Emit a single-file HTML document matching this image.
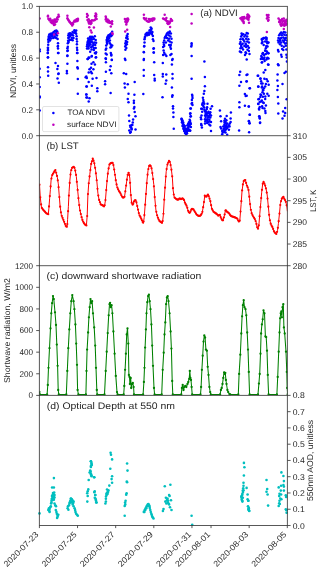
<!DOCTYPE html>
<html><head><meta charset="utf-8"><style>
html,body{margin:0;padding:0;background:#fff;width:320px;height:570px;overflow:hidden}
svg{display:block;will-change:transform}
text{font-family:"Liberation Sans", sans-serif;text-rendering:geometricPrecision}
</style></head><body>
<svg width="320" height="570" viewBox="0 0 320 570">
<defs><clipPath id="clipa"><rect x="39.4" y="6.4" width="248" height="129.3"/></clipPath><clipPath id="clipb"><rect x="39.4" y="135.7" width="248" height="130"/></clipPath><clipPath id="clipc"><rect x="39.4" y="265.7" width="248" height="129.7"/></clipPath></defs>
<rect width="320" height="570" fill="#fff"/>
<g clip-path="url(#clipa)">
<circle cx="192.1" cy="94.8" r="1.25" fill="#0000ff"/>
<circle cx="192.5" cy="98.0" r="1.25" fill="#0000ff"/>
<circle cx="192.1" cy="102.9" r="1.25" fill="#0000ff"/>
<circle cx="192.5" cy="104.9" r="1.25" fill="#0000ff"/>
<circle cx="190.5" cy="108.5" r="1.25" fill="#0000ff"/>
<circle cx="190.1" cy="113.8" r="1.25" fill="#0000ff"/>
<circle cx="190.5" cy="116.6" r="1.25" fill="#0000ff"/>
<circle cx="189.7" cy="119.8" r="1.25" fill="#0000ff"/>
<circle cx="190.5" cy="123.1" r="1.25" fill="#0000ff"/>
<circle cx="189.3" cy="124.7" r="1.25" fill="#0000ff"/>
<circle cx="190.9" cy="127.1" r="1.25" fill="#0000ff"/>
<circle cx="188.1" cy="127.9" r="1.25" fill="#0000ff"/>
<circle cx="190.1" cy="130.7" r="1.25" fill="#0000ff"/>
<circle cx="187.3" cy="130.3" r="1.25" fill="#0000ff"/>
<circle cx="186.5" cy="132.7" r="1.25" fill="#0000ff"/>
<circle cx="181.6" cy="119.0" r="1.25" fill="#0000ff"/>
<circle cx="182.5" cy="120.6" r="1.25" fill="#0000ff"/>
<circle cx="182.0" cy="122.3" r="1.25" fill="#0000ff"/>
<circle cx="182.9" cy="123.9" r="1.25" fill="#0000ff"/>
<circle cx="182.5" cy="125.9" r="1.25" fill="#0000ff"/>
<circle cx="183.7" cy="127.1" r="1.25" fill="#0000ff"/>
<circle cx="183.3" cy="128.7" r="1.25" fill="#0000ff"/>
<circle cx="184.5" cy="129.5" r="1.25" fill="#0000ff"/>
<circle cx="184.1" cy="131.1" r="1.25" fill="#0000ff"/>
<circle cx="185.3" cy="131.9" r="1.25" fill="#0000ff"/>
<circle cx="186.1" cy="134.0" r="1.25" fill="#0000ff"/>
<circle cx="184.9" cy="128.3" r="1.25" fill="#0000ff"/>
<circle cx="186.5" cy="128.7" r="1.25" fill="#0000ff"/>
<circle cx="187.3" cy="125.5" r="1.25" fill="#0000ff"/>
<circle cx="188.1" cy="123.9" r="1.25" fill="#0000ff"/>
<circle cx="188.9" cy="122.3" r="1.25" fill="#0000ff"/>
<circle cx="183.7" cy="124.7" r="1.25" fill="#0000ff"/>
<circle cx="185.7" cy="130.7" r="1.25" fill="#0000ff"/>
<circle cx="185.0" cy="133.0" r="1.25" fill="#0000ff"/>
<circle cx="187.0" cy="133.2" r="1.25" fill="#0000ff"/>
<circle cx="188.8" cy="129.5" r="1.25" fill="#0000ff"/>
<circle cx="189.5" cy="126.0" r="1.25" fill="#0000ff"/>
<circle cx="89.5" cy="40.5" r="1.25" fill="#0000ff"/>
<circle cx="90.5" cy="39.5" r="1.25" fill="#0000ff"/>
<circle cx="89.5" cy="43.5" r="1.25" fill="#0000ff"/>
<circle cx="90.5" cy="44.5" r="1.25" fill="#0000ff"/>
<circle cx="91.5" cy="41.5" r="1.25" fill="#0000ff"/>
<circle cx="92.5" cy="42.5" r="1.25" fill="#0000ff"/>
<circle cx="92.0" cy="39.5" r="1.25" fill="#0000ff"/>
<circle cx="90.5" cy="42.0" r="1.25" fill="#0000ff"/>
<circle cx="88.5" cy="48.5" r="1.25" fill="#0000ff"/>
<circle cx="92.2" cy="46.5" r="1.25" fill="#0000ff"/>
<circle cx="87.0" cy="48.5" r="1.25" fill="#0000ff"/>
<circle cx="88.0" cy="38.5" r="1.25" fill="#0000ff"/>
<circle cx="89.8" cy="37.5" r="1.25" fill="#0000ff"/>
<circle cx="93.5" cy="44.0" r="1.25" fill="#0000ff"/>
<circle cx="94.5" cy="42.5" r="1.25" fill="#0000ff"/>
<circle cx="48.8" cy="36.3" r="1.25" fill="#0000ff"/>
<circle cx="49.3" cy="34.6" r="1.25" fill="#0000ff"/>
<circle cx="50.6" cy="33.7" r="1.25" fill="#0000ff"/>
<circle cx="52.3" cy="33.2" r="1.25" fill="#0000ff"/>
<circle cx="53.6" cy="31.9" r="1.25" fill="#0000ff"/>
<circle cx="55.0" cy="31.1" r="1.25" fill="#0000ff"/>
<circle cx="56.3" cy="30.4" r="1.25" fill="#0000ff"/>
<circle cx="57.2" cy="31.5" r="1.25" fill="#0000ff"/>
<circle cx="50.1" cy="37.2" r="1.25" fill="#0000ff"/>
<circle cx="51.9" cy="36.3" r="1.25" fill="#0000ff"/>
<circle cx="53.2" cy="38.1" r="1.25" fill="#0000ff"/>
<circle cx="54.5" cy="36.3" r="1.25" fill="#0000ff"/>
<circle cx="55.8" cy="34.6" r="1.25" fill="#0000ff"/>
<circle cx="56.3" cy="38.1" r="1.25" fill="#0000ff"/>
<circle cx="57.6" cy="39.0" r="1.25" fill="#0000ff"/>
<circle cx="48.2" cy="39.8" r="1.25" fill="#0000ff"/>
<circle cx="48.4" cy="42.0" r="1.25" fill="#0000ff"/>
<circle cx="51.0" cy="35.0" r="1.25" fill="#0000ff"/>
<circle cx="52.8" cy="34.8" r="1.25" fill="#0000ff"/>
<circle cx="54.8" cy="33.5" r="1.25" fill="#0000ff"/>
<circle cx="56.5" cy="32.8" r="1.25" fill="#0000ff"/>
<circle cx="49.5" cy="38.8" r="1.25" fill="#0000ff"/>
<circle cx="51.2" cy="38.6" r="1.25" fill="#0000ff"/>
<circle cx="55.0" cy="37.5" r="1.25" fill="#0000ff"/>
<circle cx="57.0" cy="35.5" r="1.25" fill="#0000ff"/>
<circle cx="48.6" cy="38.0" r="1.25" fill="#0000ff"/>
<circle cx="50.0" cy="40.5" r="1.25" fill="#0000ff"/>
<circle cx="58.0" cy="43.3" r="1.25" fill="#0000ff"/>
<circle cx="58.0" cy="46.0" r="1.25" fill="#0000ff"/>
<circle cx="58.0" cy="48.6" r="1.25" fill="#0000ff"/>
<circle cx="58.5" cy="53.0" r="1.25" fill="#0000ff"/>
<circle cx="47.9" cy="47.7" r="1.25" fill="#0000ff"/>
<circle cx="47.9" cy="50.4" r="1.25" fill="#0000ff"/>
<circle cx="47.9" cy="53.0" r="1.25" fill="#0000ff"/>
<circle cx="47.9" cy="57.4" r="1.25" fill="#0000ff"/>
<circle cx="48.2" cy="44.8" r="1.25" fill="#0000ff"/>
<circle cx="74.4" cy="30.2" r="1.25" fill="#0000ff"/>
<circle cx="76.2" cy="30.6" r="1.25" fill="#0000ff"/>
<circle cx="68.7" cy="33.7" r="1.25" fill="#0000ff"/>
<circle cx="70.0" cy="33.2" r="1.25" fill="#0000ff"/>
<circle cx="71.3" cy="33.7" r="1.25" fill="#0000ff"/>
<circle cx="72.6" cy="31.9" r="1.25" fill="#0000ff"/>
<circle cx="68.3" cy="35.4" r="1.25" fill="#0000ff"/>
<circle cx="68.3" cy="38.1" r="1.25" fill="#0000ff"/>
<circle cx="68.1" cy="40.7" r="1.25" fill="#0000ff"/>
<circle cx="67.8" cy="43.3" r="1.25" fill="#0000ff"/>
<circle cx="70.0" cy="36.3" r="1.25" fill="#0000ff"/>
<circle cx="71.8" cy="38.1" r="1.25" fill="#0000ff"/>
<circle cx="72.6" cy="40.3" r="1.25" fill="#0000ff"/>
<circle cx="73.5" cy="38.1" r="1.25" fill="#0000ff"/>
<circle cx="73.1" cy="35.4" r="1.25" fill="#0000ff"/>
<circle cx="74.0" cy="32.8" r="1.25" fill="#0000ff"/>
<circle cx="76.2" cy="33.7" r="1.25" fill="#0000ff"/>
<circle cx="76.6" cy="36.3" r="1.25" fill="#0000ff"/>
<circle cx="76.6" cy="38.9" r="1.25" fill="#0000ff"/>
<circle cx="77.0" cy="41.6" r="1.25" fill="#0000ff"/>
<circle cx="76.9" cy="44.2" r="1.25" fill="#0000ff"/>
<circle cx="77.0" cy="47.7" r="1.25" fill="#0000ff"/>
<circle cx="77.5" cy="53.0" r="1.25" fill="#0000ff"/>
<circle cx="67.8" cy="46.8" r="1.25" fill="#0000ff"/>
<circle cx="67.8" cy="50.4" r="1.25" fill="#0000ff"/>
<circle cx="67.4" cy="55.6" r="1.25" fill="#0000ff"/>
<circle cx="75.2" cy="31.5" r="1.25" fill="#0000ff"/>
<circle cx="69.2" cy="34.5" r="1.25" fill="#0000ff"/>
<circle cx="69.0" cy="37.5" r="1.25" fill="#0000ff"/>
<circle cx="70.8" cy="35.0" r="1.25" fill="#0000ff"/>
<circle cx="72.0" cy="34.5" r="1.25" fill="#0000ff"/>
<circle cx="69.5" cy="40.0" r="1.25" fill="#0000ff"/>
<circle cx="71.0" cy="39.8" r="1.25" fill="#0000ff"/>
<circle cx="75.5" cy="32.8" r="1.25" fill="#0000ff"/>
<circle cx="68.6" cy="42.0" r="1.25" fill="#0000ff"/>
<circle cx="90.2" cy="36.7" r="1.25" fill="#0000ff"/>
<circle cx="92.0" cy="36.7" r="1.25" fill="#0000ff"/>
<circle cx="94.8" cy="36.3" r="1.25" fill="#0000ff"/>
<circle cx="91.1" cy="38.1" r="1.25" fill="#0000ff"/>
<circle cx="87.9" cy="41.3" r="1.25" fill="#0000ff"/>
<circle cx="88.8" cy="40.8" r="1.25" fill="#0000ff"/>
<circle cx="87.5" cy="42.7" r="1.25" fill="#0000ff"/>
<circle cx="88.4" cy="44.0" r="1.25" fill="#0000ff"/>
<circle cx="89.8" cy="42.2" r="1.25" fill="#0000ff"/>
<circle cx="95.7" cy="39.9" r="1.25" fill="#0000ff"/>
<circle cx="96.1" cy="42.7" r="1.25" fill="#0000ff"/>
<circle cx="93.9" cy="39.0" r="1.25" fill="#0000ff"/>
<circle cx="87.0" cy="46.3" r="1.25" fill="#0000ff"/>
<circle cx="89.3" cy="45.4" r="1.25" fill="#0000ff"/>
<circle cx="91.1" cy="47.2" r="1.25" fill="#0000ff"/>
<circle cx="93.0" cy="45.4" r="1.25" fill="#0000ff"/>
<circle cx="93.9" cy="48.1" r="1.25" fill="#0000ff"/>
<circle cx="95.7" cy="48.1" r="1.25" fill="#0000ff"/>
<circle cx="91.6" cy="49.5" r="1.25" fill="#0000ff"/>
<circle cx="93.9" cy="50.0" r="1.25" fill="#0000ff"/>
<circle cx="96.1" cy="52.3" r="1.25" fill="#0000ff"/>
<circle cx="95.7" cy="53.6" r="1.25" fill="#0000ff"/>
<circle cx="90.2" cy="51.8" r="1.25" fill="#0000ff"/>
<circle cx="96.1" cy="57.3" r="1.25" fill="#0000ff"/>
<circle cx="91.6" cy="56.4" r="1.25" fill="#0000ff"/>
<circle cx="89.3" cy="57.7" r="1.25" fill="#0000ff"/>
<circle cx="87.5" cy="59.1" r="1.25" fill="#0000ff"/>
<circle cx="88.2" cy="43.0" r="1.25" fill="#0000ff"/>
<circle cx="89.0" cy="39.3" r="1.25" fill="#0000ff"/>
<circle cx="87.3" cy="44.5" r="1.25" fill="#0000ff"/>
<circle cx="88.5" cy="46.8" r="1.25" fill="#0000ff"/>
<circle cx="93.0" cy="37.6" r="1.25" fill="#0000ff"/>
<circle cx="95.2" cy="45.0" r="1.25" fill="#0000ff"/>
<circle cx="112.2" cy="31.7" r="1.25" fill="#0000ff"/>
<circle cx="109.9" cy="34.4" r="1.25" fill="#0000ff"/>
<circle cx="108.5" cy="35.3" r="1.25" fill="#0000ff"/>
<circle cx="107.6" cy="36.7" r="1.25" fill="#0000ff"/>
<circle cx="107.1" cy="38.1" r="1.25" fill="#0000ff"/>
<circle cx="106.6" cy="40.0" r="1.25" fill="#0000ff"/>
<circle cx="108.0" cy="39.1" r="1.25" fill="#0000ff"/>
<circle cx="109.4" cy="38.1" r="1.25" fill="#0000ff"/>
<circle cx="110.8" cy="36.2" r="1.25" fill="#0000ff"/>
<circle cx="111.8" cy="35.3" r="1.25" fill="#0000ff"/>
<circle cx="109.9" cy="40.5" r="1.25" fill="#0000ff"/>
<circle cx="108.5" cy="41.4" r="1.25" fill="#0000ff"/>
<circle cx="107.1" cy="43.7" r="1.25" fill="#0000ff"/>
<circle cx="106.2" cy="45.6" r="1.25" fill="#0000ff"/>
<circle cx="106.2" cy="48.4" r="1.25" fill="#0000ff"/>
<circle cx="109.9" cy="43.3" r="1.25" fill="#0000ff"/>
<circle cx="110.8" cy="44.7" r="1.25" fill="#0000ff"/>
<circle cx="112.2" cy="45.6" r="1.25" fill="#0000ff"/>
<circle cx="110.4" cy="47.5" r="1.25" fill="#0000ff"/>
<circle cx="111.3" cy="47.0" r="1.25" fill="#0000ff"/>
<circle cx="105.7" cy="49.8" r="1.25" fill="#0000ff"/>
<circle cx="105.7" cy="53.6" r="1.25" fill="#0000ff"/>
<circle cx="110.8" cy="53.1" r="1.25" fill="#0000ff"/>
<circle cx="111.3" cy="55.5" r="1.25" fill="#0000ff"/>
<circle cx="105.7" cy="58.3" r="1.25" fill="#0000ff"/>
<circle cx="111.8" cy="59.7" r="1.25" fill="#0000ff"/>
<circle cx="108.8" cy="37.0" r="1.25" fill="#0000ff"/>
<circle cx="107.5" cy="41.0" r="1.25" fill="#0000ff"/>
<circle cx="106.8" cy="42.0" r="1.25" fill="#0000ff"/>
<circle cx="111.0" cy="33.5" r="1.25" fill="#0000ff"/>
<circle cx="109.0" cy="36.0" r="1.25" fill="#0000ff"/>
<circle cx="127.7" cy="33.9" r="1.25" fill="#0000ff"/>
<circle cx="126.8" cy="35.8" r="1.25" fill="#0000ff"/>
<circle cx="126.3" cy="38.1" r="1.25" fill="#0000ff"/>
<circle cx="127.7" cy="39.1" r="1.25" fill="#0000ff"/>
<circle cx="125.8" cy="40.9" r="1.25" fill="#0000ff"/>
<circle cx="127.2" cy="41.9" r="1.25" fill="#0000ff"/>
<circle cx="125.4" cy="43.3" r="1.25" fill="#0000ff"/>
<circle cx="126.8" cy="44.2" r="1.25" fill="#0000ff"/>
<circle cx="125.8" cy="45.1" r="1.25" fill="#0000ff"/>
<circle cx="126.3" cy="48.0" r="1.25" fill="#0000ff"/>
<circle cx="125.4" cy="49.8" r="1.25" fill="#0000ff"/>
<circle cx="124.9" cy="58.7" r="1.25" fill="#0000ff"/>
<circle cx="126.8" cy="37.2" r="1.25" fill="#0000ff"/>
<circle cx="126.2" cy="42.5" r="1.25" fill="#0000ff"/>
<circle cx="125.2" cy="46.5" r="1.25" fill="#0000ff"/>
<circle cx="127.3" cy="36.5" r="1.25" fill="#0000ff"/>
<circle cx="150.7" cy="27.4" r="1.25" fill="#0000ff"/>
<circle cx="151.2" cy="29.7" r="1.25" fill="#0000ff"/>
<circle cx="149.6" cy="30.2" r="1.25" fill="#0000ff"/>
<circle cx="152.4" cy="31.9" r="1.25" fill="#0000ff"/>
<circle cx="148.4" cy="32.5" r="1.25" fill="#0000ff"/>
<circle cx="146.7" cy="33.1" r="1.25" fill="#0000ff"/>
<circle cx="145.6" cy="34.2" r="1.25" fill="#0000ff"/>
<circle cx="150.1" cy="33.1" r="1.25" fill="#0000ff"/>
<circle cx="147.3" cy="35.3" r="1.25" fill="#0000ff"/>
<circle cx="149.0" cy="34.7" r="1.25" fill="#0000ff"/>
<circle cx="145.1" cy="36.4" r="1.25" fill="#0000ff"/>
<circle cx="144.5" cy="39.2" r="1.25" fill="#0000ff"/>
<circle cx="144.5" cy="42.6" r="1.25" fill="#0000ff"/>
<circle cx="152.9" cy="35.9" r="1.25" fill="#0000ff"/>
<circle cx="152.9" cy="39.2" r="1.25" fill="#0000ff"/>
<circle cx="153.5" cy="40.9" r="1.25" fill="#0000ff"/>
<circle cx="151.8" cy="34.2" r="1.25" fill="#0000ff"/>
<circle cx="144.3" cy="46.0" r="1.25" fill="#0000ff"/>
<circle cx="143.9" cy="52.2" r="1.25" fill="#0000ff"/>
<circle cx="153.5" cy="48.8" r="1.25" fill="#0000ff"/>
<circle cx="153.7" cy="52.5" r="1.25" fill="#0000ff"/>
<circle cx="143.9" cy="58.9" r="1.25" fill="#0000ff"/>
<circle cx="150.5" cy="31.5" r="1.25" fill="#0000ff"/>
<circle cx="147.8" cy="33.8" r="1.25" fill="#0000ff"/>
<circle cx="146.2" cy="35.0" r="1.25" fill="#0000ff"/>
<circle cx="144.8" cy="37.8" r="1.25" fill="#0000ff"/>
<circle cx="151.5" cy="28.5" r="1.25" fill="#0000ff"/>
<circle cx="152.0" cy="33.0" r="1.25" fill="#0000ff"/>
<circle cx="169.8" cy="31.4" r="1.25" fill="#0000ff"/>
<circle cx="168.1" cy="32.5" r="1.25" fill="#0000ff"/>
<circle cx="167.0" cy="33.6" r="1.25" fill="#0000ff"/>
<circle cx="170.9" cy="33.6" r="1.25" fill="#0000ff"/>
<circle cx="165.9" cy="35.9" r="1.25" fill="#0000ff"/>
<circle cx="168.7" cy="35.3" r="1.25" fill="#0000ff"/>
<circle cx="170.4" cy="36.4" r="1.25" fill="#0000ff"/>
<circle cx="164.7" cy="38.1" r="1.25" fill="#0000ff"/>
<circle cx="167.0" cy="38.1" r="1.25" fill="#0000ff"/>
<circle cx="171.5" cy="38.7" r="1.25" fill="#0000ff"/>
<circle cx="164.2" cy="40.4" r="1.25" fill="#0000ff"/>
<circle cx="168.1" cy="40.4" r="1.25" fill="#0000ff"/>
<circle cx="169.8" cy="41.5" r="1.25" fill="#0000ff"/>
<circle cx="163.6" cy="42.6" r="1.25" fill="#0000ff"/>
<circle cx="165.9" cy="42.6" r="1.25" fill="#0000ff"/>
<circle cx="171.5" cy="42.6" r="1.25" fill="#0000ff"/>
<circle cx="164.2" cy="46.0" r="1.25" fill="#0000ff"/>
<circle cx="169.2" cy="44.9" r="1.25" fill="#0000ff"/>
<circle cx="163.1" cy="47.1" r="1.25" fill="#0000ff"/>
<circle cx="170.4" cy="47.1" r="1.25" fill="#0000ff"/>
<circle cx="170.9" cy="48.8" r="1.25" fill="#0000ff"/>
<circle cx="163.6" cy="50.5" r="1.25" fill="#0000ff"/>
<circle cx="164.2" cy="52.7" r="1.25" fill="#0000ff"/>
<circle cx="163.1" cy="55.0" r="1.25" fill="#0000ff"/>
<circle cx="165.3" cy="54.4" r="1.25" fill="#0000ff"/>
<circle cx="166.4" cy="56.1" r="1.25" fill="#0000ff"/>
<circle cx="170.4" cy="55.0" r="1.25" fill="#0000ff"/>
<circle cx="171.5" cy="53.9" r="1.25" fill="#0000ff"/>
<circle cx="172.6" cy="58.9" r="1.25" fill="#0000ff"/>
<circle cx="166.5" cy="34.8" r="1.25" fill="#0000ff"/>
<circle cx="169.3" cy="33.0" r="1.25" fill="#0000ff"/>
<circle cx="165.2" cy="37.0" r="1.25" fill="#0000ff"/>
<circle cx="163.9" cy="44.5" r="1.25" fill="#0000ff"/>
<circle cx="170.8" cy="45.0" r="1.25" fill="#0000ff"/>
<circle cx="169.0" cy="38.8" r="1.25" fill="#0000ff"/>
<circle cx="241.6" cy="33.6" r="1.25" fill="#0000ff"/>
<circle cx="243.3" cy="34.2" r="1.25" fill="#0000ff"/>
<circle cx="246.7" cy="33.1" r="1.25" fill="#0000ff"/>
<circle cx="247.8" cy="33.6" r="1.25" fill="#0000ff"/>
<circle cx="241.1" cy="36.4" r="1.25" fill="#0000ff"/>
<circle cx="244.4" cy="36.4" r="1.25" fill="#0000ff"/>
<circle cx="247.2" cy="36.4" r="1.25" fill="#0000ff"/>
<circle cx="240.5" cy="39.2" r="1.25" fill="#0000ff"/>
<circle cx="242.7" cy="38.7" r="1.25" fill="#0000ff"/>
<circle cx="246.1" cy="38.7" r="1.25" fill="#0000ff"/>
<circle cx="248.4" cy="39.2" r="1.25" fill="#0000ff"/>
<circle cx="240.5" cy="42.1" r="1.25" fill="#0000ff"/>
<circle cx="244.4" cy="41.5" r="1.25" fill="#0000ff"/>
<circle cx="247.2" cy="41.5" r="1.25" fill="#0000ff"/>
<circle cx="248.9" cy="42.6" r="1.25" fill="#0000ff"/>
<circle cx="239.9" cy="43.7" r="1.25" fill="#0000ff"/>
<circle cx="242.7" cy="43.7" r="1.25" fill="#0000ff"/>
<circle cx="245.6" cy="43.7" r="1.25" fill="#0000ff"/>
<circle cx="241.1" cy="46.0" r="1.25" fill="#0000ff"/>
<circle cx="244.4" cy="46.0" r="1.25" fill="#0000ff"/>
<circle cx="247.8" cy="46.0" r="1.25" fill="#0000ff"/>
<circle cx="240.5" cy="48.2" r="1.25" fill="#0000ff"/>
<circle cx="242.2" cy="47.7" r="1.25" fill="#0000ff"/>
<circle cx="246.1" cy="47.1" r="1.25" fill="#0000ff"/>
<circle cx="248.9" cy="47.7" r="1.25" fill="#0000ff"/>
<circle cx="239.9" cy="51.6" r="1.25" fill="#0000ff"/>
<circle cx="241.1" cy="52.2" r="1.25" fill="#0000ff"/>
<circle cx="245.6" cy="52.2" r="1.25" fill="#0000ff"/>
<circle cx="248.9" cy="51.1" r="1.25" fill="#0000ff"/>
<circle cx="249.5" cy="53.9" r="1.25" fill="#0000ff"/>
<circle cx="245.0" cy="55.0" r="1.25" fill="#0000ff"/>
<circle cx="246.1" cy="53.3" r="1.25" fill="#0000ff"/>
<circle cx="246.7" cy="59.5" r="1.25" fill="#0000ff"/>
<circle cx="242.0" cy="35.0" r="1.25" fill="#0000ff"/>
<circle cx="245.5" cy="35.0" r="1.25" fill="#0000ff"/>
<circle cx="243.5" cy="40.0" r="1.25" fill="#0000ff"/>
<circle cx="241.5" cy="44.5" r="1.25" fill="#0000ff"/>
<circle cx="246.0" cy="44.8" r="1.25" fill="#0000ff"/>
<circle cx="243.0" cy="49.5" r="1.25" fill="#0000ff"/>
<circle cx="247.5" cy="49.8" r="1.25" fill="#0000ff"/>
<circle cx="281.2" cy="32.6" r="1.25" fill="#0000ff"/>
<circle cx="283.8" cy="32.1" r="1.25" fill="#0000ff"/>
<circle cx="285.4" cy="32.6" r="1.25" fill="#0000ff"/>
<circle cx="279.1" cy="35.3" r="1.25" fill="#0000ff"/>
<circle cx="281.7" cy="35.3" r="1.25" fill="#0000ff"/>
<circle cx="284.3" cy="34.7" r="1.25" fill="#0000ff"/>
<circle cx="286.4" cy="35.3" r="1.25" fill="#0000ff"/>
<circle cx="278.5" cy="37.9" r="1.25" fill="#0000ff"/>
<circle cx="281.2" cy="37.9" r="1.25" fill="#0000ff"/>
<circle cx="283.3" cy="37.4" r="1.25" fill="#0000ff"/>
<circle cx="285.9" cy="37.9" r="1.25" fill="#0000ff"/>
<circle cx="278.0" cy="40.5" r="1.25" fill="#0000ff"/>
<circle cx="280.1" cy="40.0" r="1.25" fill="#0000ff"/>
<circle cx="282.7" cy="40.5" r="1.25" fill="#0000ff"/>
<circle cx="284.8" cy="40.0" r="1.25" fill="#0000ff"/>
<circle cx="286.9" cy="40.5" r="1.25" fill="#0000ff"/>
<circle cx="278.5" cy="42.6" r="1.25" fill="#0000ff"/>
<circle cx="281.2" cy="42.6" r="1.25" fill="#0000ff"/>
<circle cx="283.8" cy="42.1" r="1.25" fill="#0000ff"/>
<circle cx="286.4" cy="43.2" r="1.25" fill="#0000ff"/>
<circle cx="281.7" cy="45.8" r="1.25" fill="#0000ff"/>
<circle cx="283.8" cy="46.8" r="1.25" fill="#0000ff"/>
<circle cx="285.9" cy="45.8" r="1.25" fill="#0000ff"/>
<circle cx="282.2" cy="48.9" r="1.25" fill="#0000ff"/>
<circle cx="286.4" cy="49.5" r="1.25" fill="#0000ff"/>
<circle cx="278.0" cy="50.0" r="1.25" fill="#0000ff"/>
<circle cx="278.5" cy="51.6" r="1.25" fill="#0000ff"/>
<circle cx="283.3" cy="50.0" r="1.25" fill="#0000ff"/>
<circle cx="281.2" cy="54.7" r="1.25" fill="#0000ff"/>
<circle cx="281.7" cy="56.8" r="1.25" fill="#0000ff"/>
<circle cx="286.4" cy="54.7" r="1.25" fill="#0000ff"/>
<circle cx="286.7" cy="57.4" r="1.25" fill="#0000ff"/>
<circle cx="286.9" cy="61.6" r="1.25" fill="#0000ff"/>
<circle cx="278.0" cy="64.2" r="1.25" fill="#0000ff"/>
<circle cx="278.5" cy="65.3" r="1.25" fill="#0000ff"/>
<circle cx="280.0" cy="33.8" r="1.25" fill="#0000ff"/>
<circle cx="282.5" cy="33.5" r="1.25" fill="#0000ff"/>
<circle cx="279.8" cy="38.8" r="1.25" fill="#0000ff"/>
<circle cx="284.5" cy="38.5" r="1.25" fill="#0000ff"/>
<circle cx="279.5" cy="41.3" r="1.25" fill="#0000ff"/>
<circle cx="285.0" cy="43.5" r="1.25" fill="#0000ff"/>
<circle cx="280.0" cy="44.2" r="1.25" fill="#0000ff"/>
<circle cx="268.5" cy="42.6" r="1.25" fill="#0000ff"/>
<circle cx="268.5" cy="53.2" r="1.25" fill="#0000ff"/>
<circle cx="268.5" cy="58.4" r="1.25" fill="#0000ff"/>
<circle cx="268.5" cy="64.7" r="1.25" fill="#0000ff"/>
<circle cx="261.9" cy="39.8" r="1.25" fill="#0000ff"/>
<circle cx="263.6" cy="38.1" r="1.25" fill="#0000ff"/>
<circle cx="265.8" cy="37.6" r="1.25" fill="#0000ff"/>
<circle cx="266.4" cy="39.2" r="1.25" fill="#0000ff"/>
<circle cx="266.9" cy="41.5" r="1.25" fill="#0000ff"/>
<circle cx="265.2" cy="41.5" r="1.25" fill="#0000ff"/>
<circle cx="261.9" cy="43.2" r="1.25" fill="#0000ff"/>
<circle cx="267.5" cy="43.2" r="1.25" fill="#0000ff"/>
<circle cx="266.4" cy="46.0" r="1.25" fill="#0000ff"/>
<circle cx="265.8" cy="48.2" r="1.25" fill="#0000ff"/>
<circle cx="267.5" cy="46.6" r="1.25" fill="#0000ff"/>
<circle cx="265.2" cy="50.5" r="1.25" fill="#0000ff"/>
<circle cx="266.9" cy="51.6" r="1.25" fill="#0000ff"/>
<circle cx="268.1" cy="53.3" r="1.25" fill="#0000ff"/>
<circle cx="263.0" cy="53.3" r="1.25" fill="#0000ff"/>
<circle cx="264.1" cy="55.0" r="1.25" fill="#0000ff"/>
<circle cx="265.8" cy="53.9" r="1.25" fill="#0000ff"/>
<circle cx="261.9" cy="57.2" r="1.25" fill="#0000ff"/>
<circle cx="267.5" cy="57.8" r="1.25" fill="#0000ff"/>
<circle cx="266.4" cy="59.5" r="1.25" fill="#0000ff"/>
<circle cx="39.7" cy="49.6" r="1.25" fill="#0000ff"/>
<circle cx="39.7" cy="51.2" r="1.25" fill="#0000ff"/>
<circle cx="39.7" cy="68.8" r="1.25" fill="#0000ff"/>
<circle cx="39.7" cy="77.2" r="1.25" fill="#0000ff"/>
<circle cx="39.7" cy="87.0" r="1.25" fill="#0000ff"/>
<circle cx="39.7" cy="96.4" r="1.25" fill="#0000ff"/>
<circle cx="39.7" cy="97.4" r="1.25" fill="#0000ff"/>
<circle cx="39.7" cy="110.5" r="1.25" fill="#0000ff"/>
<circle cx="48.0" cy="47.9" r="1.25" fill="#0000ff"/>
<circle cx="48.0" cy="49.75" r="1.25" fill="#0000ff"/>
<circle cx="47.75" cy="52.9" r="1.25" fill="#0000ff"/>
<circle cx="48.0" cy="57.25" r="1.25" fill="#0000ff"/>
<circle cx="48.0" cy="67.25" r="1.25" fill="#0000ff"/>
<circle cx="48.0" cy="71.6" r="1.25" fill="#0000ff"/>
<circle cx="48.2" cy="75.7" r="1.25" fill="#0000ff"/>
<circle cx="57.75" cy="46.6" r="1.25" fill="#0000ff"/>
<circle cx="58.0" cy="52.9" r="1.25" fill="#0000ff"/>
<circle cx="55.5" cy="62.9" r="1.25" fill="#0000ff"/>
<circle cx="58.0" cy="66.0" r="1.25" fill="#0000ff"/>
<circle cx="57.4" cy="69.1" r="1.25" fill="#0000ff"/>
<circle cx="58.6" cy="73.5" r="1.25" fill="#0000ff"/>
<circle cx="58.3" cy="74.1" r="1.25" fill="#0000ff"/>
<circle cx="57.5" cy="78.5" r="1.25" fill="#0000ff"/>
<circle cx="58.8" cy="82.7" r="1.25" fill="#0000ff"/>
<circle cx="67.4" cy="48.2" r="1.25" fill="#0000ff"/>
<circle cx="67.4" cy="51.0" r="1.25" fill="#0000ff"/>
<circle cx="67.4" cy="56.0" r="1.25" fill="#0000ff"/>
<circle cx="67.4" cy="63.8" r="1.25" fill="#0000ff"/>
<circle cx="66.9" cy="71.0" r="1.25" fill="#0000ff"/>
<circle cx="66.9" cy="73.3" r="1.25" fill="#0000ff"/>
<circle cx="77.0" cy="52.9" r="1.25" fill="#0000ff"/>
<circle cx="77.4" cy="61.0" r="1.25" fill="#0000ff"/>
<circle cx="77.8" cy="68.5" r="1.25" fill="#0000ff"/>
<circle cx="77.8" cy="79.1" r="1.25" fill="#0000ff"/>
<circle cx="77.8" cy="93.7" r="1.25" fill="#0000ff"/>
<circle cx="77.4" cy="67.25" r="1.25" fill="#0000ff"/>
<circle cx="77.2" cy="50.0" r="1.25" fill="#0000ff"/>
<circle cx="88.7" cy="57.6" r="1.25" fill="#0000ff"/>
<circle cx="87.9" cy="59.1" r="1.25" fill="#0000ff"/>
<circle cx="91.8" cy="56.0" r="1.25" fill="#0000ff"/>
<circle cx="94.9" cy="52.9" r="1.25" fill="#0000ff"/>
<circle cx="95.7" cy="57.6" r="1.25" fill="#0000ff"/>
<circle cx="93.4" cy="62.25" r="1.25" fill="#0000ff"/>
<circle cx="91.5" cy="63.8" r="1.25" fill="#0000ff"/>
<circle cx="94.9" cy="64.6" r="1.25" fill="#0000ff"/>
<circle cx="91.0" cy="67.7" r="1.25" fill="#0000ff"/>
<circle cx="89.5" cy="69.3" r="1.25" fill="#0000ff"/>
<circle cx="93.4" cy="69.3" r="1.25" fill="#0000ff"/>
<circle cx="88.7" cy="72.6" r="1.25" fill="#0000ff"/>
<circle cx="91.8" cy="73.3" r="1.25" fill="#0000ff"/>
<circle cx="91.0" cy="71.8" r="1.25" fill="#0000ff"/>
<circle cx="86.3" cy="76.5" r="1.25" fill="#0000ff"/>
<circle cx="86.8" cy="78.0" r="1.25" fill="#0000ff"/>
<circle cx="88.7" cy="81.9" r="1.25" fill="#0000ff"/>
<circle cx="92.6" cy="78.8" r="1.25" fill="#0000ff"/>
<circle cx="96.5" cy="78.0" r="1.25" fill="#0000ff"/>
<circle cx="86.8" cy="86.6" r="1.25" fill="#0000ff"/>
<circle cx="91.8" cy="85.8" r="1.25" fill="#0000ff"/>
<circle cx="97.3" cy="88.2" r="1.25" fill="#0000ff"/>
<circle cx="97.3" cy="91.3" r="1.25" fill="#0000ff"/>
<circle cx="86.3" cy="94.4" r="1.25" fill="#0000ff"/>
<circle cx="87.1" cy="97.6" r="1.25" fill="#0000ff"/>
<circle cx="89.5" cy="98.3" r="1.25" fill="#0000ff"/>
<circle cx="88.7" cy="101.5" r="1.25" fill="#0000ff"/>
<circle cx="85.7" cy="77.25" r="1.25" fill="#0000ff"/>
<circle cx="86.4" cy="86.6" r="1.25" fill="#0000ff"/>
<circle cx="86.4" cy="94.4" r="1.25" fill="#0000ff"/>
<circle cx="86.4" cy="97.6" r="1.25" fill="#0000ff"/>
<circle cx="106.7" cy="54.4" r="1.25" fill="#0000ff"/>
<circle cx="105.9" cy="59.1" r="1.25" fill="#0000ff"/>
<circle cx="105.9" cy="62.25" r="1.25" fill="#0000ff"/>
<circle cx="111.3" cy="54.4" r="1.25" fill="#0000ff"/>
<circle cx="111.8" cy="59.9" r="1.25" fill="#0000ff"/>
<circle cx="110.6" cy="66.2" r="1.25" fill="#0000ff"/>
<circle cx="109.8" cy="70.0" r="1.25" fill="#0000ff"/>
<circle cx="105.9" cy="71.8" r="1.25" fill="#0000ff"/>
<circle cx="111.3" cy="73.3" r="1.25" fill="#0000ff"/>
<circle cx="105.1" cy="81.2" r="1.25" fill="#0000ff"/>
<circle cx="105.1" cy="84.3" r="1.25" fill="#0000ff"/>
<circle cx="110.6" cy="92.9" r="1.25" fill="#0000ff"/>
<circle cx="125.4" cy="59.9" r="1.25" fill="#0000ff"/>
<circle cx="123.8" cy="73.3" r="1.25" fill="#0000ff"/>
<circle cx="126.2" cy="74.1" r="1.25" fill="#0000ff"/>
<circle cx="124.6" cy="83.5" r="1.25" fill="#0000ff"/>
<circle cx="127.75" cy="84.3" r="1.25" fill="#0000ff"/>
<circle cx="124.9" cy="87.4" r="1.25" fill="#0000ff"/>
<circle cx="128.5" cy="93.7" r="1.25" fill="#0000ff"/>
<circle cx="127.75" cy="99.1" r="1.25" fill="#0000ff"/>
<circle cx="128.5" cy="102.25" r="1.25" fill="#0000ff"/>
<circle cx="129.0" cy="115.5" r="1.25" fill="#0000ff"/>
<circle cx="129.3" cy="121.0" r="1.25" fill="#0000ff"/>
<circle cx="130.1" cy="125.7" r="1.25" fill="#0000ff"/>
<circle cx="130.9" cy="127.25" r="1.25" fill="#0000ff"/>
<circle cx="129.3" cy="130.4" r="1.25" fill="#0000ff"/>
<circle cx="130.1" cy="132.7" r="1.25" fill="#0000ff"/>
<circle cx="132.4" cy="124.9" r="1.25" fill="#0000ff"/>
<circle cx="131.7" cy="128.8" r="1.25" fill="#0000ff"/>
<circle cx="134.7" cy="81.9" r="1.25" fill="#0000ff"/>
<circle cx="134.4" cy="94.75" r="1.25" fill="#0000ff"/>
<circle cx="133.9" cy="100.7" r="1.25" fill="#0000ff"/>
<circle cx="133.9" cy="103.0" r="1.25" fill="#0000ff"/>
<circle cx="134.4" cy="106.9" r="1.25" fill="#0000ff"/>
<circle cx="133.9" cy="108.5" r="1.25" fill="#0000ff"/>
<circle cx="134.7" cy="112.0" r="1.25" fill="#0000ff"/>
<circle cx="135.5" cy="116.3" r="1.25" fill="#0000ff"/>
<circle cx="133.1" cy="119.4" r="1.25" fill="#0000ff"/>
<circle cx="132.8" cy="122.6" r="1.25" fill="#0000ff"/>
<circle cx="131.6" cy="124.9" r="1.25" fill="#0000ff"/>
<circle cx="130.8" cy="127.25" r="1.25" fill="#0000ff"/>
<circle cx="131.6" cy="129.6" r="1.25" fill="#0000ff"/>
<circle cx="135.5" cy="129.6" r="1.25" fill="#0000ff"/>
<circle cx="130.8" cy="131.9" r="1.25" fill="#0000ff"/>
<circle cx="144.1" cy="46.6" r="1.25" fill="#0000ff"/>
<circle cx="143.75" cy="52.1" r="1.25" fill="#0000ff"/>
<circle cx="143.75" cy="59.9" r="1.25" fill="#0000ff"/>
<circle cx="143.75" cy="70.0" r="1.25" fill="#0000ff"/>
<circle cx="153.75" cy="48.2" r="1.25" fill="#0000ff"/>
<circle cx="153.75" cy="52.6" r="1.25" fill="#0000ff"/>
<circle cx="154.2" cy="62.25" r="1.25" fill="#0000ff"/>
<circle cx="143.75" cy="75.7" r="1.25" fill="#0000ff"/>
<circle cx="143.3" cy="94.1" r="1.25" fill="#0000ff"/>
<circle cx="154.2" cy="74.9" r="1.25" fill="#0000ff"/>
<circle cx="154.7" cy="78.8" r="1.25" fill="#0000ff"/>
<circle cx="154.7" cy="80.4" r="1.25" fill="#0000ff"/>
<circle cx="172.2" cy="59.9" r="1.25" fill="#0000ff"/>
<circle cx="171.9" cy="64.6" r="1.25" fill="#0000ff"/>
<circle cx="162.8" cy="63.0" r="1.25" fill="#0000ff"/>
<circle cx="162.8" cy="74.1" r="1.25" fill="#0000ff"/>
<circle cx="162.8" cy="76.5" r="1.25" fill="#0000ff"/>
<circle cx="166.25" cy="74.4" r="1.25" fill="#0000ff"/>
<circle cx="166.25" cy="80.4" r="1.25" fill="#0000ff"/>
<circle cx="165.6" cy="83.8" r="1.25" fill="#0000ff"/>
<circle cx="162.5" cy="97.25" r="1.25" fill="#0000ff"/>
<circle cx="172.5" cy="74.1" r="1.25" fill="#0000ff"/>
<circle cx="172.5" cy="78.5" r="1.25" fill="#0000ff"/>
<circle cx="171.9" cy="87.4" r="1.25" fill="#0000ff"/>
<circle cx="172.5" cy="95.2" r="1.25" fill="#0000ff"/>
<circle cx="172.2" cy="96.8" r="1.25" fill="#0000ff"/>
<circle cx="173.0" cy="106.2" r="1.25" fill="#0000ff"/>
<circle cx="173.0" cy="108.5" r="1.25" fill="#0000ff"/>
<circle cx="173.4" cy="112.4" r="1.25" fill="#0000ff"/>
<circle cx="173.4" cy="117.1" r="1.25" fill="#0000ff"/>
<circle cx="173.75" cy="128.8" r="1.25" fill="#0000ff"/>
<circle cx="191.6" cy="43.2" r="1.25" fill="#0000ff"/>
<circle cx="191.6" cy="45.0" r="1.25" fill="#0000ff"/>
<circle cx="191.3" cy="46.6" r="1.25" fill="#0000ff"/>
<circle cx="191.6" cy="56.0" r="1.25" fill="#0000ff"/>
<circle cx="204.4" cy="61.6" r="1.25" fill="#0000ff"/>
<circle cx="181.5" cy="118.7" r="1.25" fill="#0000ff"/>
<circle cx="182.25" cy="121.8" r="1.25" fill="#0000ff"/>
<circle cx="183.0" cy="124.9" r="1.25" fill="#0000ff"/>
<circle cx="184.1" cy="128.0" r="1.25" fill="#0000ff"/>
<circle cx="185.1" cy="131.2" r="1.25" fill="#0000ff"/>
<circle cx="185.7" cy="133.5" r="1.25" fill="#0000ff"/>
<circle cx="186.6" cy="132.0" r="1.25" fill="#0000ff"/>
<circle cx="187.7" cy="128.8" r="1.25" fill="#0000ff"/>
<circle cx="189.3" cy="124.9" r="1.25" fill="#0000ff"/>
<circle cx="190.1" cy="121.0" r="1.25" fill="#0000ff"/>
<circle cx="190.8" cy="116.3" r="1.25" fill="#0000ff"/>
<circle cx="190.4" cy="113.2" r="1.25" fill="#0000ff"/>
<circle cx="190.8" cy="108.5" r="1.25" fill="#0000ff"/>
<circle cx="191.6" cy="103.8" r="1.25" fill="#0000ff"/>
<circle cx="191.9" cy="99.9" r="1.25" fill="#0000ff"/>
<circle cx="192.4" cy="96.0" r="1.25" fill="#0000ff"/>
<circle cx="191.6" cy="78.8" r="1.25" fill="#0000ff"/>
<circle cx="190.1" cy="130.4" r="1.25" fill="#0000ff"/>
<circle cx="190.8" cy="124.1" r="1.25" fill="#0000ff"/>
<circle cx="181.8" cy="120.0" r="1.25" fill="#0000ff"/>
<circle cx="182.6" cy="123.0" r="1.25" fill="#0000ff"/>
<circle cx="183.5" cy="126.5" r="1.25" fill="#0000ff"/>
<circle cx="184.5" cy="129.5" r="1.25" fill="#0000ff"/>
<circle cx="185.5" cy="132.5" r="1.25" fill="#0000ff"/>
<circle cx="186.2" cy="134.0" r="1.25" fill="#0000ff"/>
<circle cx="187.0" cy="131.0" r="1.25" fill="#0000ff"/>
<circle cx="188.5" cy="127.0" r="1.25" fill="#0000ff"/>
<circle cx="189.6" cy="123.0" r="1.25" fill="#0000ff"/>
<circle cx="183.2" cy="122.5" r="1.25" fill="#0000ff"/>
<circle cx="184.8" cy="126.0" r="1.25" fill="#0000ff"/>
<circle cx="186.8" cy="129.5" r="1.25" fill="#0000ff"/>
<circle cx="188.1" cy="130.8" r="1.25" fill="#0000ff"/>
<circle cx="204.9" cy="76.9" r="1.25" fill="#0000ff"/>
<circle cx="204.9" cy="86.3" r="1.25" fill="#0000ff"/>
<circle cx="204.4" cy="91.0" r="1.25" fill="#0000ff"/>
<circle cx="203.8" cy="93.7" r="1.25" fill="#0000ff"/>
<circle cx="202.9" cy="97.8" r="1.25" fill="#0000ff"/>
<circle cx="203.3" cy="99.9" r="1.25" fill="#0000ff"/>
<circle cx="203.6" cy="102.0" r="1.25" fill="#0000ff"/>
<circle cx="202.6" cy="103.4" r="1.25" fill="#0000ff"/>
<circle cx="204.3" cy="103.8" r="1.25" fill="#0000ff"/>
<circle cx="202.2" cy="104.8" r="1.25" fill="#0000ff"/>
<circle cx="203.3" cy="105.9" r="1.25" fill="#0000ff"/>
<circle cx="207.5" cy="103.8" r="1.25" fill="#0000ff"/>
<circle cx="212.0" cy="106.2" r="1.25" fill="#0000ff"/>
<circle cx="210.6" cy="108.7" r="1.25" fill="#0000ff"/>
<circle cx="207.1" cy="107.3" r="1.25" fill="#0000ff"/>
<circle cx="206.8" cy="109.0" r="1.25" fill="#0000ff"/>
<circle cx="201.2" cy="108.7" r="1.25" fill="#0000ff"/>
<circle cx="202.2" cy="108.7" r="1.25" fill="#0000ff"/>
<circle cx="204.3" cy="109.7" r="1.25" fill="#0000ff"/>
<circle cx="205.7" cy="110.8" r="1.25" fill="#0000ff"/>
<circle cx="202.2" cy="111.8" r="1.25" fill="#0000ff"/>
<circle cx="205.0" cy="111.5" r="1.25" fill="#0000ff"/>
<circle cx="208.5" cy="111.8" r="1.25" fill="#0000ff"/>
<circle cx="210.3" cy="112.2" r="1.25" fill="#0000ff"/>
<circle cx="205.7" cy="113.6" r="1.25" fill="#0000ff"/>
<circle cx="207.8" cy="113.2" r="1.25" fill="#0000ff"/>
<circle cx="209.9" cy="113.9" r="1.25" fill="#0000ff"/>
<circle cx="201.5" cy="115.4" r="1.25" fill="#0000ff"/>
<circle cx="205.0" cy="115.4" r="1.25" fill="#0000ff"/>
<circle cx="207.1" cy="115.4" r="1.25" fill="#0000ff"/>
<circle cx="209.2" cy="115.7" r="1.25" fill="#0000ff"/>
<circle cx="211.0" cy="115.4" r="1.25" fill="#0000ff"/>
<circle cx="200.8" cy="117.5" r="1.25" fill="#0000ff"/>
<circle cx="205.7" cy="117.1" r="1.25" fill="#0000ff"/>
<circle cx="208.2" cy="117.5" r="1.25" fill="#0000ff"/>
<circle cx="210.3" cy="117.5" r="1.25" fill="#0000ff"/>
<circle cx="201.2" cy="119.2" r="1.25" fill="#0000ff"/>
<circle cx="205.0" cy="119.2" r="1.25" fill="#0000ff"/>
<circle cx="207.1" cy="119.2" r="1.25" fill="#0000ff"/>
<circle cx="209.2" cy="119.6" r="1.25" fill="#0000ff"/>
<circle cx="205.4" cy="121.3" r="1.25" fill="#0000ff"/>
<circle cx="207.5" cy="121.0" r="1.25" fill="#0000ff"/>
<circle cx="209.6" cy="121.3" r="1.25" fill="#0000ff"/>
<circle cx="211.0" cy="122.0" r="1.25" fill="#0000ff"/>
<circle cx="205.0" cy="123.4" r="1.25" fill="#0000ff"/>
<circle cx="207.1" cy="123.1" r="1.25" fill="#0000ff"/>
<circle cx="201.2" cy="124.1" r="1.25" fill="#0000ff"/>
<circle cx="209.2" cy="124.5" r="1.25" fill="#0000ff"/>
<circle cx="201.5" cy="125.2" r="1.25" fill="#0000ff"/>
<circle cx="210.3" cy="125.5" r="1.25" fill="#0000ff"/>
<circle cx="201.9" cy="127.6" r="1.25" fill="#0000ff"/>
<circle cx="211.0" cy="131.1" r="1.25" fill="#0000ff"/>
<circle cx="206.3" cy="114.5" r="1.25" fill="#0000ff"/>
<circle cx="208.5" cy="116.5" r="1.25" fill="#0000ff"/>
<circle cx="206.2" cy="120.2" r="1.25" fill="#0000ff"/>
<circle cx="208.3" cy="122.2" r="1.25" fill="#0000ff"/>
<circle cx="206.5" cy="112.3" r="1.25" fill="#0000ff"/>
<circle cx="204.2" cy="107.5" r="1.25" fill="#0000ff"/>
<circle cx="203.0" cy="102.8" r="1.25" fill="#0000ff"/>
<circle cx="219.9" cy="110.6" r="1.25" fill="#0000ff"/>
<circle cx="230.9" cy="112.6" r="1.25" fill="#0000ff"/>
<circle cx="220.5" cy="116.2" r="1.25" fill="#0000ff"/>
<circle cx="226.7" cy="116.0" r="1.25" fill="#0000ff"/>
<circle cx="230.6" cy="118.5" r="1.25" fill="#0000ff"/>
<circle cx="225.0" cy="118.8" r="1.25" fill="#0000ff"/>
<circle cx="221.1" cy="121.3" r="1.25" fill="#0000ff"/>
<circle cx="224.4" cy="120.7" r="1.25" fill="#0000ff"/>
<circle cx="226.4" cy="120.2" r="1.25" fill="#0000ff"/>
<circle cx="230.6" cy="121.9" r="1.25" fill="#0000ff"/>
<circle cx="225.3" cy="123.0" r="1.25" fill="#0000ff"/>
<circle cx="227.2" cy="123.6" r="1.25" fill="#0000ff"/>
<circle cx="229.8" cy="123.6" r="1.25" fill="#0000ff"/>
<circle cx="224.4" cy="124.7" r="1.25" fill="#0000ff"/>
<circle cx="228.9" cy="125.2" r="1.25" fill="#0000ff"/>
<circle cx="220.5" cy="126.9" r="1.25" fill="#0000ff"/>
<circle cx="223.3" cy="126.4" r="1.25" fill="#0000ff"/>
<circle cx="226.1" cy="126.9" r="1.25" fill="#0000ff"/>
<circle cx="229.5" cy="126.4" r="1.25" fill="#0000ff"/>
<circle cx="221.1" cy="128.6" r="1.25" fill="#0000ff"/>
<circle cx="223.9" cy="128.6" r="1.25" fill="#0000ff"/>
<circle cx="227.2" cy="128.1" r="1.25" fill="#0000ff"/>
<circle cx="228.9" cy="129.7" r="1.25" fill="#0000ff"/>
<circle cx="222.2" cy="130.9" r="1.25" fill="#0000ff"/>
<circle cx="225.0" cy="130.3" r="1.25" fill="#0000ff"/>
<circle cx="222.7" cy="132.6" r="1.25" fill="#0000ff"/>
<circle cx="224.2" cy="132.0" r="1.25" fill="#0000ff"/>
<circle cx="227.2" cy="134.8" r="1.25" fill="#0000ff"/>
<circle cx="222.2" cy="134.2" r="1.25" fill="#0000ff"/>
<circle cx="225.3" cy="127.5" r="1.25" fill="#0000ff"/>
<circle cx="225.6" cy="121.9" r="1.25" fill="#0000ff"/>
<circle cx="224.8" cy="125.8" r="1.25" fill="#0000ff"/>
<circle cx="226.5" cy="125.0" r="1.25" fill="#0000ff"/>
<circle cx="223.5" cy="129.8" r="1.25" fill="#0000ff"/>
<circle cx="226.0" cy="129.2" r="1.25" fill="#0000ff"/>
<circle cx="225.5" cy="132.5" r="1.25" fill="#0000ff"/>
<circle cx="227.8" cy="126.8" r="1.25" fill="#0000ff"/>
<circle cx="224.5" cy="122.5" r="1.25" fill="#0000ff"/>
<circle cx="240.2" cy="71.8" r="1.25" fill="#0000ff"/>
<circle cx="239.4" cy="74.9" r="1.25" fill="#0000ff"/>
<circle cx="241.0" cy="81.9" r="1.25" fill="#0000ff"/>
<circle cx="239.4" cy="85.8" r="1.25" fill="#0000ff"/>
<circle cx="246.5" cy="74.9" r="1.25" fill="#0000ff"/>
<circle cx="246.5" cy="81.6" r="1.25" fill="#0000ff"/>
<circle cx="249.6" cy="88.2" r="1.25" fill="#0000ff"/>
<circle cx="244.9" cy="94.1" r="1.25" fill="#0000ff"/>
<circle cx="245.7" cy="96.0" r="1.25" fill="#0000ff"/>
<circle cx="239.4" cy="102.25" r="1.25" fill="#0000ff"/>
<circle cx="239.4" cy="107.25" r="1.25" fill="#0000ff"/>
<circle cx="244.9" cy="105.7" r="1.25" fill="#0000ff"/>
<circle cx="248.8" cy="106.6" r="1.25" fill="#0000ff"/>
<circle cx="249.6" cy="114.75" r="1.25" fill="#0000ff"/>
<circle cx="248.8" cy="121.0" r="1.25" fill="#0000ff"/>
<circle cx="249.6" cy="123.3" r="1.25" fill="#0000ff"/>
<circle cx="239.1" cy="130.4" r="1.25" fill="#0000ff"/>
<circle cx="249.1" cy="132.25" r="1.25" fill="#0000ff"/>
<circle cx="247.4" cy="74.4" r="1.25" fill="#0000ff"/>
<circle cx="246.7" cy="81.3" r="1.25" fill="#0000ff"/>
<circle cx="249.9" cy="88.2" r="1.25" fill="#0000ff"/>
<circle cx="246.7" cy="95.75" r="1.25" fill="#0000ff"/>
<circle cx="248.75" cy="106.5" r="1.25" fill="#0000ff"/>
<circle cx="249.9" cy="114.7" r="1.25" fill="#0000ff"/>
<circle cx="249.0" cy="121.2" r="1.25" fill="#0000ff"/>
<circle cx="249.4" cy="123.3" r="1.25" fill="#0000ff"/>
<circle cx="261.8" cy="39.0" r="1.25" fill="#0000ff"/>
<circle cx="263.9" cy="38.3" r="1.25" fill="#0000ff"/>
<circle cx="266.6" cy="37.9" r="1.25" fill="#0000ff"/>
<circle cx="262.5" cy="41.8" r="1.25" fill="#0000ff"/>
<circle cx="267.3" cy="42.5" r="1.25" fill="#0000ff"/>
<circle cx="266.6" cy="46.6" r="1.25" fill="#0000ff"/>
<circle cx="265.3" cy="50.7" r="1.25" fill="#0000ff"/>
<circle cx="267.3" cy="52.8" r="1.25" fill="#0000ff"/>
<circle cx="262.5" cy="54.1" r="1.25" fill="#0000ff"/>
<circle cx="260.9" cy="59.0" r="1.25" fill="#0000ff"/>
<circle cx="263.9" cy="59.0" r="1.25" fill="#0000ff"/>
<circle cx="267.3" cy="58.3" r="1.25" fill="#0000ff"/>
<circle cx="261.8" cy="62.4" r="1.25" fill="#0000ff"/>
<circle cx="264.6" cy="61.0" r="1.25" fill="#0000ff"/>
<circle cx="268.0" cy="64.5" r="1.25" fill="#0000ff"/>
<circle cx="265.3" cy="70.0" r="1.25" fill="#0000ff"/>
<circle cx="262.9" cy="38.8" r="1.25" fill="#0000ff"/>
<circle cx="262.1" cy="42.7" r="1.25" fill="#0000ff"/>
<circle cx="263.7" cy="45.0" r="1.25" fill="#0000ff"/>
<circle cx="262.9" cy="52.9" r="1.25" fill="#0000ff"/>
<circle cx="261.3" cy="56.0" r="1.25" fill="#0000ff"/>
<circle cx="262.9" cy="59.1" r="1.25" fill="#0000ff"/>
<circle cx="262.1" cy="62.25" r="1.25" fill="#0000ff"/>
<circle cx="264.4" cy="57.6" r="1.25" fill="#0000ff"/>
<circle cx="258.2" cy="75.7" r="1.25" fill="#0000ff"/>
<circle cx="260.5" cy="78.8" r="1.25" fill="#0000ff"/>
<circle cx="261.3" cy="83.5" r="1.25" fill="#0000ff"/>
<circle cx="262.1" cy="86.6" r="1.25" fill="#0000ff"/>
<circle cx="258.2" cy="86.6" r="1.25" fill="#0000ff"/>
<circle cx="262.9" cy="89.75" r="1.25" fill="#0000ff"/>
<circle cx="260.5" cy="94.4" r="1.25" fill="#0000ff"/>
<circle cx="262.9" cy="96.8" r="1.25" fill="#0000ff"/>
<circle cx="259.0" cy="99.1" r="1.25" fill="#0000ff"/>
<circle cx="261.3" cy="101.5" r="1.25" fill="#0000ff"/>
<circle cx="258.2" cy="103.8" r="1.25" fill="#0000ff"/>
<circle cx="262.1" cy="106.2" r="1.25" fill="#0000ff"/>
<circle cx="259.0" cy="108.5" r="1.25" fill="#0000ff"/>
<circle cx="263.7" cy="103.0" r="1.25" fill="#0000ff"/>
<circle cx="264.4" cy="108.5" r="1.25" fill="#0000ff"/>
<circle cx="259.4" cy="116.3" r="1.25" fill="#0000ff"/>
<circle cx="259.75" cy="117.9" r="1.25" fill="#0000ff"/>
<circle cx="260.1" cy="122.6" r="1.25" fill="#0000ff"/>
<circle cx="263.7" cy="72.6" r="1.25" fill="#0000ff"/>
<circle cx="264.4" cy="78.8" r="1.25" fill="#0000ff"/>
<circle cx="265.2" cy="86.6" r="1.25" fill="#0000ff"/>
<circle cx="265.2" cy="99.1" r="1.25" fill="#0000ff"/>
<circle cx="257.7" cy="75.8" r="1.25" fill="#0000ff"/>
<circle cx="260.4" cy="78.6" r="1.25" fill="#0000ff"/>
<circle cx="261.1" cy="81.3" r="1.25" fill="#0000ff"/>
<circle cx="262.5" cy="83.4" r="1.25" fill="#0000ff"/>
<circle cx="266.6" cy="79.25" r="1.25" fill="#0000ff"/>
<circle cx="267.7" cy="81.3" r="1.25" fill="#0000ff"/>
<circle cx="268.7" cy="84.75" r="1.25" fill="#0000ff"/>
<circle cx="265.9" cy="84.1" r="1.25" fill="#0000ff"/>
<circle cx="258.4" cy="86.8" r="1.25" fill="#0000ff"/>
<circle cx="261.8" cy="87.5" r="1.25" fill="#0000ff"/>
<circle cx="263.9" cy="88.2" r="1.25" fill="#0000ff"/>
<circle cx="263.2" cy="90.3" r="1.25" fill="#0000ff"/>
<circle cx="262.5" cy="92.3" r="1.25" fill="#0000ff"/>
<circle cx="263.9" cy="93.7" r="1.25" fill="#0000ff"/>
<circle cx="267.3" cy="93.7" r="1.25" fill="#0000ff"/>
<circle cx="268.7" cy="95.75" r="1.25" fill="#0000ff"/>
<circle cx="261.1" cy="95.1" r="1.25" fill="#0000ff"/>
<circle cx="265.3" cy="96.4" r="1.25" fill="#0000ff"/>
<circle cx="260.4" cy="97.1" r="1.25" fill="#0000ff"/>
<circle cx="258.4" cy="99.2" r="1.25" fill="#0000ff"/>
<circle cx="261.8" cy="100.6" r="1.25" fill="#0000ff"/>
<circle cx="259.75" cy="102.0" r="1.25" fill="#0000ff"/>
<circle cx="263.2" cy="102.6" r="1.25" fill="#0000ff"/>
<circle cx="258.4" cy="104.0" r="1.25" fill="#0000ff"/>
<circle cx="265.9" cy="105.4" r="1.25" fill="#0000ff"/>
<circle cx="259.75" cy="107.0" r="1.25" fill="#0000ff"/>
<circle cx="262.5" cy="107.9" r="1.25" fill="#0000ff"/>
<circle cx="259.1" cy="109.5" r="1.25" fill="#0000ff"/>
<circle cx="265.3" cy="110.9" r="1.25" fill="#0000ff"/>
<circle cx="265.5" cy="113.0" r="1.25" fill="#0000ff"/>
<circle cx="259.1" cy="116.4" r="1.25" fill="#0000ff"/>
<circle cx="259.75" cy="118.5" r="1.25" fill="#0000ff"/>
<circle cx="260.0" cy="123.0" r="1.25" fill="#0000ff"/>
<circle cx="277.6" cy="74.4" r="1.25" fill="#0000ff"/>
<circle cx="277.4" cy="80.6" r="1.25" fill="#0000ff"/>
<circle cx="277.9" cy="85.9" r="1.25" fill="#0000ff"/>
<circle cx="277.4" cy="90.0" r="1.25" fill="#0000ff"/>
<circle cx="277.9" cy="96.9" r="1.25" fill="#0000ff"/>
<circle cx="278.3" cy="103.6" r="1.25" fill="#0000ff"/>
<circle cx="282.5" cy="84.1" r="1.25" fill="#0000ff"/>
<circle cx="278.3" cy="113.6" r="1.25" fill="#0000ff"/>
<circle cx="285.2" cy="108.1" r="1.25" fill="#0000ff"/>
<circle cx="283.1" cy="111.6" r="1.25" fill="#0000ff"/>
<circle cx="285.2" cy="113.0" r="1.25" fill="#0000ff"/>
<circle cx="284.5" cy="115.7" r="1.25" fill="#0000ff"/>
<circle cx="282.5" cy="118.5" r="1.25" fill="#0000ff"/>
<circle cx="286.6" cy="99.2" r="1.25" fill="#0000ff"/>
<circle cx="284.5" cy="73.0" r="1.25" fill="#0000ff"/>
<circle cx="285.9" cy="71.7" r="1.25" fill="#0000ff"/>
<circle cx="47.9" cy="16.6" r="1.25" fill="#bf00bf"/>
<circle cx="48.4" cy="18.8" r="1.25" fill="#bf00bf"/>
<circle cx="49.7" cy="20.5" r="1.25" fill="#bf00bf"/>
<circle cx="51.0" cy="22.3" r="1.25" fill="#bf00bf"/>
<circle cx="52.3" cy="23.2" r="1.25" fill="#bf00bf"/>
<circle cx="53.6" cy="23.6" r="1.25" fill="#bf00bf"/>
<circle cx="55.0" cy="24.5" r="1.25" fill="#bf00bf"/>
<circle cx="55.4" cy="22.3" r="1.25" fill="#bf00bf"/>
<circle cx="56.7" cy="21.4" r="1.25" fill="#bf00bf"/>
<circle cx="57.6" cy="19.6" r="1.25" fill="#bf00bf"/>
<circle cx="58.0" cy="17.0" r="1.25" fill="#bf00bf"/>
<circle cx="58.5" cy="14.8" r="1.25" fill="#bf00bf"/>
<circle cx="58.9" cy="16.6" r="1.25" fill="#bf00bf"/>
<circle cx="52.8" cy="20.5" r="1.25" fill="#bf00bf"/>
<circle cx="54.5" cy="19.6" r="1.25" fill="#bf00bf"/>
<circle cx="56.3" cy="19.2" r="1.25" fill="#bf00bf"/>
<circle cx="48.0" cy="15.8" r="1.25" fill="#bf00bf"/>
<circle cx="50.2" cy="18.8" r="1.25" fill="#bf00bf"/>
<circle cx="51.5" cy="20.5" r="1.25" fill="#bf00bf"/>
<circle cx="53.5" cy="21.8" r="1.25" fill="#bf00bf"/>
<circle cx="55.0" cy="21.0" r="1.25" fill="#bf00bf"/>
<circle cx="57.2" cy="17.8" r="1.25" fill="#bf00bf"/>
<circle cx="54.0" cy="25.0" r="1.25" fill="#bf00bf"/>
<circle cx="49.0" cy="19.5" r="1.25" fill="#bf00bf"/>
<circle cx="52.0" cy="21.8" r="1.25" fill="#bf00bf"/>
<circle cx="54.1" cy="34.6" r="1.25" fill="#bf00bf"/>
<circle cx="57.9" cy="33.2" r="1.25" fill="#bf00bf"/>
<circle cx="67.4" cy="15.7" r="1.25" fill="#bf00bf"/>
<circle cx="67.4" cy="18.3" r="1.25" fill="#bf00bf"/>
<circle cx="68.7" cy="20.5" r="1.25" fill="#bf00bf"/>
<circle cx="70.0" cy="22.3" r="1.25" fill="#bf00bf"/>
<circle cx="71.3" cy="24.0" r="1.25" fill="#bf00bf"/>
<circle cx="72.2" cy="25.4" r="1.25" fill="#bf00bf"/>
<circle cx="73.1" cy="24.0" r="1.25" fill="#bf00bf"/>
<circle cx="74.0" cy="21.8" r="1.25" fill="#bf00bf"/>
<circle cx="75.3" cy="20.5" r="1.25" fill="#bf00bf"/>
<circle cx="76.6" cy="19.2" r="1.25" fill="#bf00bf"/>
<circle cx="77.9" cy="18.8" r="1.25" fill="#bf00bf"/>
<circle cx="77.5" cy="21.0" r="1.25" fill="#bf00bf"/>
<circle cx="75.7" cy="21.4" r="1.25" fill="#bf00bf"/>
<circle cx="68.0" cy="19.4" r="1.25" fill="#bf00bf"/>
<circle cx="69.4" cy="21.5" r="1.25" fill="#bf00bf"/>
<circle cx="70.8" cy="23.3" r="1.25" fill="#bf00bf"/>
<circle cx="72.5" cy="23.0" r="1.25" fill="#bf00bf"/>
<circle cx="74.5" cy="20.8" r="1.25" fill="#bf00bf"/>
<circle cx="76.8" cy="20.5" r="1.25" fill="#bf00bf"/>
<circle cx="78.0" cy="19.8" r="1.25" fill="#bf00bf"/>
<circle cx="87.0" cy="13.9" r="1.25" fill="#bf00bf"/>
<circle cx="87.0" cy="17.1" r="1.25" fill="#bf00bf"/>
<circle cx="87.5" cy="19.9" r="1.25" fill="#bf00bf"/>
<circle cx="88.4" cy="21.7" r="1.25" fill="#bf00bf"/>
<circle cx="89.8" cy="22.6" r="1.25" fill="#bf00bf"/>
<circle cx="90.7" cy="24.0" r="1.25" fill="#bf00bf"/>
<circle cx="91.1" cy="21.2" r="1.25" fill="#bf00bf"/>
<circle cx="92.0" cy="20.3" r="1.25" fill="#bf00bf"/>
<circle cx="94.8" cy="19.9" r="1.25" fill="#bf00bf"/>
<circle cx="95.7" cy="18.0" r="1.25" fill="#bf00bf"/>
<circle cx="95.7" cy="13.5" r="1.25" fill="#bf00bf"/>
<circle cx="96.1" cy="16.2" r="1.25" fill="#bf00bf"/>
<circle cx="96.6" cy="19.0" r="1.25" fill="#bf00bf"/>
<circle cx="87.8" cy="15.5" r="1.25" fill="#bf00bf"/>
<circle cx="88.6" cy="19.2" r="1.25" fill="#bf00bf"/>
<circle cx="90.0" cy="21.0" r="1.25" fill="#bf00bf"/>
<circle cx="93.5" cy="20.5" r="1.25" fill="#bf00bf"/>
<circle cx="95.0" cy="16.0" r="1.25" fill="#bf00bf"/>
<circle cx="96.2" cy="14.5" r="1.25" fill="#bf00bf"/>
<circle cx="89.3" cy="27.2" r="1.25" fill="#bf00bf"/>
<circle cx="93.9" cy="27.6" r="1.25" fill="#bf00bf"/>
<circle cx="90.7" cy="30.4" r="1.25" fill="#bf00bf"/>
<circle cx="91.6" cy="32.6" r="1.25" fill="#bf00bf"/>
<circle cx="89.0" cy="23.5" r="1.25" fill="#bf00bf"/>
<circle cx="91.5" cy="23.0" r="1.25" fill="#bf00bf"/>
<circle cx="105.7" cy="16.6" r="1.25" fill="#bf00bf"/>
<circle cx="105.7" cy="19.4" r="1.25" fill="#bf00bf"/>
<circle cx="106.6" cy="21.2" r="1.25" fill="#bf00bf"/>
<circle cx="108.0" cy="22.2" r="1.25" fill="#bf00bf"/>
<circle cx="109.4" cy="22.7" r="1.25" fill="#bf00bf"/>
<circle cx="110.8" cy="23.1" r="1.25" fill="#bf00bf"/>
<circle cx="112.1" cy="21.2" r="1.25" fill="#bf00bf"/>
<circle cx="112.2" cy="24.1" r="1.25" fill="#bf00bf"/>
<circle cx="110.8" cy="26.4" r="1.25" fill="#bf00bf"/>
<circle cx="107.6" cy="19.4" r="1.25" fill="#bf00bf"/>
<circle cx="109.0" cy="20.8" r="1.25" fill="#bf00bf"/>
<circle cx="106.0" cy="18.0" r="1.25" fill="#bf00bf"/>
<circle cx="107.0" cy="20.5" r="1.25" fill="#bf00bf"/>
<circle cx="110.0" cy="22.0" r="1.25" fill="#bf00bf"/>
<circle cx="111.5" cy="22.5" r="1.25" fill="#bf00bf"/>
<circle cx="112.2" cy="33.0" r="1.25" fill="#bf00bf"/>
<circle cx="112.7" cy="33.9" r="1.25" fill="#bf00bf"/>
<circle cx="124.9" cy="18.9" r="1.25" fill="#bf00bf"/>
<circle cx="126.8" cy="18.9" r="1.25" fill="#bf00bf"/>
<circle cx="128.2" cy="19.4" r="1.25" fill="#bf00bf"/>
<circle cx="125.4" cy="21.7" r="1.25" fill="#bf00bf"/>
<circle cx="127.2" cy="21.7" r="1.25" fill="#bf00bf"/>
<circle cx="126.3" cy="24.5" r="1.25" fill="#bf00bf"/>
<circle cx="127.2" cy="29.7" r="1.25" fill="#bf00bf"/>
<circle cx="125.2" cy="31.6" r="1.25" fill="#bf00bf"/>
<circle cx="127.7" cy="20.8" r="1.25" fill="#bf00bf"/>
<circle cx="125.8" cy="20.0" r="1.25" fill="#bf00bf"/>
<circle cx="126.5" cy="22.8" r="1.25" fill="#bf00bf"/>
<circle cx="127.8" cy="18.5" r="1.25" fill="#bf00bf"/>
<circle cx="143.9" cy="14.7" r="1.25" fill="#bf00bf"/>
<circle cx="143.9" cy="17.9" r="1.25" fill="#bf00bf"/>
<circle cx="145.1" cy="19.6" r="1.25" fill="#bf00bf"/>
<circle cx="146.7" cy="20.7" r="1.25" fill="#bf00bf"/>
<circle cx="148.4" cy="21.8" r="1.25" fill="#bf00bf"/>
<circle cx="150.1" cy="20.7" r="1.25" fill="#bf00bf"/>
<circle cx="151.2" cy="19.0" r="1.25" fill="#bf00bf"/>
<circle cx="152.9" cy="18.4" r="1.25" fill="#bf00bf"/>
<circle cx="154.1" cy="19.6" r="1.25" fill="#bf00bf"/>
<circle cx="152.4" cy="20.7" r="1.25" fill="#bf00bf"/>
<circle cx="146.2" cy="18.4" r="1.25" fill="#bf00bf"/>
<circle cx="149.0" cy="19.0" r="1.25" fill="#bf00bf"/>
<circle cx="144.5" cy="18.8" r="1.25" fill="#bf00bf"/>
<circle cx="147.5" cy="21.2" r="1.25" fill="#bf00bf"/>
<circle cx="149.3" cy="21.5" r="1.25" fill="#bf00bf"/>
<circle cx="151.5" cy="20.0" r="1.25" fill="#bf00bf"/>
<circle cx="153.5" cy="19.0" r="1.25" fill="#bf00bf"/>
<circle cx="154.3" cy="18.5" r="1.25" fill="#bf00bf"/>
<circle cx="164.7" cy="14.7" r="1.25" fill="#bf00bf"/>
<circle cx="163.1" cy="18.4" r="1.25" fill="#bf00bf"/>
<circle cx="165.3" cy="19.6" r="1.25" fill="#bf00bf"/>
<circle cx="167.0" cy="21.2" r="1.25" fill="#bf00bf"/>
<circle cx="168.1" cy="22.4" r="1.25" fill="#bf00bf"/>
<circle cx="169.2" cy="23.5" r="1.25" fill="#bf00bf"/>
<circle cx="170.4" cy="21.2" r="1.25" fill="#bf00bf"/>
<circle cx="172.1" cy="20.7" r="1.25" fill="#bf00bf"/>
<circle cx="170.9" cy="19.0" r="1.25" fill="#bf00bf"/>
<circle cx="168.1" cy="24.1" r="1.25" fill="#bf00bf"/>
<circle cx="170.1" cy="27.1" r="1.25" fill="#bf00bf"/>
<circle cx="166.4" cy="17.9" r="1.25" fill="#bf00bf"/>
<circle cx="164.0" cy="19.0" r="1.25" fill="#bf00bf"/>
<circle cx="166.0" cy="20.2" r="1.25" fill="#bf00bf"/>
<circle cx="168.5" cy="21.5" r="1.25" fill="#bf00bf"/>
<circle cx="169.8" cy="22.5" r="1.25" fill="#bf00bf"/>
<circle cx="171.5" cy="20.0" r="1.25" fill="#bf00bf"/>
<circle cx="167.5" cy="23.2" r="1.25" fill="#bf00bf"/>
<circle cx="240.5" cy="18.25" r="1.25" fill="#bf00bf"/>
<circle cx="241.75" cy="17.5" r="1.25" fill="#bf00bf"/>
<circle cx="244.25" cy="17.0" r="1.25" fill="#bf00bf"/>
<circle cx="244.5" cy="18.5" r="1.25" fill="#bf00bf"/>
<circle cx="242.5" cy="20.0" r="1.25" fill="#bf00bf"/>
<circle cx="243.5" cy="21.5" r="1.25" fill="#bf00bf"/>
<circle cx="243.75" cy="23.0" r="1.25" fill="#bf00bf"/>
<circle cx="241.5" cy="19.5" r="1.25" fill="#bf00bf"/>
<circle cx="243.0" cy="18.75" r="1.25" fill="#bf00bf"/>
<circle cx="243.0" cy="17.3" r="1.25" fill="#bf00bf"/>
<circle cx="242.8" cy="21.2" r="1.25" fill="#bf00bf"/>
<circle cx="247.75" cy="14.5" r="1.25" fill="#bf00bf"/>
<circle cx="247.5" cy="15.0" r="1.25" fill="#bf00bf"/>
<circle cx="248.75" cy="15.5" r="1.25" fill="#bf00bf"/>
<circle cx="247.25" cy="17.0" r="1.25" fill="#bf00bf"/>
<circle cx="248.75" cy="17.5" r="1.25" fill="#bf00bf"/>
<circle cx="247.5" cy="19.0" r="1.25" fill="#bf00bf"/>
<circle cx="248.5" cy="19.75" r="1.25" fill="#bf00bf"/>
<circle cx="249.25" cy="16.5" r="1.25" fill="#bf00bf"/>
<circle cx="246.5" cy="18.0" r="1.25" fill="#bf00bf"/>
<circle cx="249.0" cy="22.75" r="1.25" fill="#bf00bf"/>
<circle cx="248.0" cy="16.2" r="1.25" fill="#bf00bf"/>
<circle cx="248.2" cy="18.5" r="1.25" fill="#bf00bf"/>
<circle cx="266.9" cy="15.1" r="1.25" fill="#bf00bf"/>
<circle cx="267.5" cy="16.7" r="1.25" fill="#bf00bf"/>
<circle cx="266.9" cy="18.4" r="1.25" fill="#bf00bf"/>
<circle cx="268.1" cy="20.7" r="1.25" fill="#bf00bf"/>
<circle cx="266.9" cy="31.9" r="1.25" fill="#bf00bf"/>
<circle cx="268.5" cy="15.0" r="1.25" fill="#bf00bf"/>
<circle cx="268.5" cy="17.5" r="1.25" fill="#bf00bf"/>
<circle cx="268.5" cy="20.0" r="1.25" fill="#bf00bf"/>
<circle cx="278.5" cy="18.4" r="1.25" fill="#bf00bf"/>
<circle cx="279.6" cy="20.0" r="1.25" fill="#bf00bf"/>
<circle cx="279.1" cy="22.1" r="1.25" fill="#bf00bf"/>
<circle cx="280.6" cy="21.1" r="1.25" fill="#bf00bf"/>
<circle cx="282.2" cy="18.9" r="1.25" fill="#bf00bf"/>
<circle cx="283.8" cy="18.4" r="1.25" fill="#bf00bf"/>
<circle cx="283.3" cy="21.1" r="1.25" fill="#bf00bf"/>
<circle cx="284.8" cy="20.5" r="1.25" fill="#bf00bf"/>
<circle cx="286.4" cy="21.6" r="1.25" fill="#bf00bf"/>
<circle cx="281.7" cy="23.7" r="1.25" fill="#bf00bf"/>
<circle cx="283.8" cy="24.2" r="1.25" fill="#bf00bf"/>
<circle cx="285.4" cy="23.2" r="1.25" fill="#bf00bf"/>
<circle cx="281.2" cy="25.8" r="1.25" fill="#bf00bf"/>
<circle cx="284.3" cy="25.8" r="1.25" fill="#bf00bf"/>
<circle cx="286.9" cy="23.7" r="1.25" fill="#bf00bf"/>
<circle cx="283.8" cy="28.9" r="1.25" fill="#bf00bf"/>
<circle cx="280.1" cy="22.6" r="1.25" fill="#bf00bf"/>
<circle cx="281.5" cy="20.0" r="1.25" fill="#bf00bf"/>
<circle cx="282.5" cy="22.0" r="1.25" fill="#bf00bf"/>
<circle cx="285.0" cy="22.0" r="1.25" fill="#bf00bf"/>
<circle cx="286.5" cy="19.8" r="1.25" fill="#bf00bf"/>
<circle cx="282.8" cy="25.0" r="1.25" fill="#bf00bf"/>
<circle cx="280.5" cy="24.5" r="1.25" fill="#bf00bf"/>
<circle cx="285.8" cy="25.0" r="1.25" fill="#bf00bf"/>
<circle cx="39.6" cy="18.5" r="1.25" fill="#bf00bf"/>
<circle cx="191.6" cy="14.1" r="1.25" fill="#bf00bf"/>
<circle cx="191.6" cy="23.5" r="1.25" fill="#bf00bf"/>
</g>
<g clip-path="url(#clipb)">
<polyline points="39.50,184.70 40.25,196.90 41.40,207.20 43.60,210.40 46.40,213.40 48.30,214.20 48.90,208.20 49.60,198.80 50.40,189.40 51.10,180.00 52.10,175.30 54.00,172.10 55.30,169.70 56.40,173.50 57.30,177.20 58.30,183.80 59.20,195.00 60.10,206.30 61.30,214.70 62.80,218.50 64.30,222.20 65.80,226.00 67.10,227.30 67.60,219.40 68.40,206.30 69.10,191.30 69.90,180.00 70.80,171.60 72.10,167.80 74.00,166.50 75.10,169.70 76.30,176.30 77.40,187.50 78.50,198.80 79.70,209.10 81.20,215.70 82.70,220.90 84.50,224.10 86.40,225.40 87.20,215.70 87.90,195.00 88.70,183.80 89.80,174.40 91.10,164.10 92.80,158.40 94.30,163.10 95.60,170.60 96.90,181.90 97.90,193.20 99.00,199.70 100.70,204.40 102.60,205.30 104.40,206.80 105.40,200.70 106.30,189.40 107.30,178.10 108.20,170.60 109.50,164.10 111.00,163.10 112.90,162.80 113.80,166.90 114.80,173.50 115.90,181.00 117.00,186.60 118.50,190.30 120.40,193.20 121.90,196.50 123.20,197.80 124.50,196.90 125.60,189.40 126.60,181.90 127.50,175.30 128.80,172.10 129.80,178.10 130.70,193.20 131.60,202.50 132.80,205.30 133.90,201.60 135.40,199.70 136.50,202.50 137.70,208.20 139.20,214.70 140.70,217.50 142.00,220.40 143.30,223.50 144.20,217.50 145.20,204.40 146.10,192.20 147.00,180.00 148.00,170.60 149.10,166.00 150.40,165.00 151.70,168.80 152.80,176.30 153.80,184.70 154.70,196.90 155.90,210.00 157.40,216.60 159.30,220.90 161.10,222.20 162.40,223.20 163.40,214.70 164.30,198.80 165.30,183.80 166.20,171.60 167.50,164.10 169.00,160.90 170.10,162.20 171.30,168.80 172.40,178.10 173.10,190.00 174.20,197.20 176.40,199.20 178.10,199.80 179.70,198.30 181.20,199.20 182.50,198.30 184.00,199.80 185.10,203.10 186.90,206.40 188.40,211.90 189.90,213.00 191.70,208.60 193.40,209.30 195.00,211.90 196.50,214.50 198.30,215.80 200.40,215.80 202.20,212.90 203.70,204.20 204.80,195.50 206.20,197.00 207.20,195.50 208.10,194.40 209.20,197.50 210.30,201.00 211.80,208.60 213.60,211.90 215.30,213.00 216.90,214.10 218.40,215.80 219.70,214.50 221.20,218.40 222.80,221.10 224.50,215.20 225.60,209.70 227.10,211.90 228.90,213.00 230.60,215.80 232.80,216.70 235.00,217.40 237.20,218.40 238.70,221.70 239.80,220.60 241.10,204.40 242.00,191.30 243.00,183.80 243.90,180.40 245.40,180.00 246.50,184.70 247.60,187.10 248.60,190.30 249.50,198.80 250.50,208.20 251.80,213.80 253.30,216.60 254.80,219.00 256.10,222.20 257.00,226.90 258.00,228.80 258.90,225.00 259.80,213.80 260.80,202.50 261.70,192.20 262.70,183.80 263.60,181.90 264.90,184.70 266.00,188.50 267.20,195.00 268.30,206.30 269.40,217.50 270.50,223.20 271.70,226.00 272.50,227.20 273.70,230.70 274.90,232.80 276.30,233.90 277.50,230.70 278.40,223.70 279.50,213.20 280.40,203.50 281.60,199.10 283.30,196.50 284.40,199.10 285.60,200.90 286.80,206.10 287.40,211.40" fill="none" stroke="#ff0000" stroke-width="1.0" stroke-linejoin="round"/>
<circle cx="39.50" cy="184.70" r="1.1" fill="#ff0000"/>
<circle cx="40.29" cy="197.30" r="1.1" fill="#ff0000"/>
<circle cx="41.09" cy="204.42" r="1.1" fill="#ff0000"/>
<circle cx="41.88" cy="207.90" r="1.1" fill="#ff0000"/>
<circle cx="42.68" cy="209.06" r="1.1" fill="#ff0000"/>
<circle cx="43.47" cy="210.22" r="1.1" fill="#ff0000"/>
<circle cx="44.27" cy="211.12" r="1.1" fill="#ff0000"/>
<circle cx="45.06" cy="211.97" r="1.1" fill="#ff0000"/>
<circle cx="45.86" cy="212.82" r="1.1" fill="#ff0000"/>
<circle cx="46.65" cy="213.51" r="1.1" fill="#ff0000"/>
<circle cx="47.45" cy="213.84" r="1.1" fill="#ff0000"/>
<circle cx="48.24" cy="214.17" r="1.1" fill="#ff0000"/>
<circle cx="49.04" cy="206.39" r="1.1" fill="#ff0000"/>
<circle cx="49.83" cy="196.10" r="1.1" fill="#ff0000"/>
<circle cx="50.62" cy="186.39" r="1.1" fill="#ff0000"/>
<circle cx="51.42" cy="178.50" r="1.1" fill="#ff0000"/>
<circle cx="52.21" cy="175.11" r="1.1" fill="#ff0000"/>
<circle cx="53.01" cy="173.77" r="1.1" fill="#ff0000"/>
<circle cx="53.80" cy="172.43" r="1.1" fill="#ff0000"/>
<circle cx="54.60" cy="171.00" r="1.1" fill="#ff0000"/>
<circle cx="55.39" cy="170.02" r="1.1" fill="#ff0000"/>
<circle cx="56.19" cy="172.76" r="1.1" fill="#ff0000"/>
<circle cx="56.98" cy="175.89" r="1.1" fill="#ff0000"/>
<circle cx="57.78" cy="180.34" r="1.1" fill="#ff0000"/>
<circle cx="58.57" cy="187.16" r="1.1" fill="#ff0000"/>
<circle cx="59.36" cy="197.07" r="1.1" fill="#ff0000"/>
<circle cx="60.16" cy="206.71" r="1.1" fill="#ff0000"/>
<circle cx="60.95" cy="212.28" r="1.1" fill="#ff0000"/>
<circle cx="61.75" cy="215.84" r="1.1" fill="#ff0000"/>
<circle cx="62.54" cy="217.85" r="1.1" fill="#ff0000"/>
<circle cx="63.34" cy="219.83" r="1.1" fill="#ff0000"/>
<circle cx="64.13" cy="221.79" r="1.1" fill="#ff0000"/>
<circle cx="64.93" cy="223.79" r="1.1" fill="#ff0000"/>
<circle cx="65.72" cy="225.80" r="1.1" fill="#ff0000"/>
<circle cx="66.52" cy="226.72" r="1.1" fill="#ff0000"/>
<circle cx="67.31" cy="223.98" r="1.1" fill="#ff0000"/>
<circle cx="68.11" cy="211.13" r="1.1" fill="#ff0000"/>
<circle cx="68.90" cy="195.59" r="1.1" fill="#ff0000"/>
<circle cx="69.69" cy="182.91" r="1.1" fill="#ff0000"/>
<circle cx="70.49" cy="174.50" r="1.1" fill="#ff0000"/>
<circle cx="71.28" cy="170.19" r="1.1" fill="#ff0000"/>
<circle cx="72.08" cy="167.86" r="1.1" fill="#ff0000"/>
<circle cx="72.87" cy="167.27" r="1.1" fill="#ff0000"/>
<circle cx="73.67" cy="166.73" r="1.1" fill="#ff0000"/>
<circle cx="74.46" cy="167.84" r="1.1" fill="#ff0000"/>
<circle cx="75.26" cy="170.56" r="1.1" fill="#ff0000"/>
<circle cx="76.05" cy="174.93" r="1.1" fill="#ff0000"/>
<circle cx="76.85" cy="181.85" r="1.1" fill="#ff0000"/>
<circle cx="77.64" cy="189.97" r="1.1" fill="#ff0000"/>
<circle cx="78.43" cy="198.13" r="1.1" fill="#ff0000"/>
<circle cx="79.23" cy="205.06" r="1.1" fill="#ff0000"/>
<circle cx="80.02" cy="210.52" r="1.1" fill="#ff0000"/>
<circle cx="80.82" cy="214.02" r="1.1" fill="#ff0000"/>
<circle cx="81.61" cy="217.13" r="1.1" fill="#ff0000"/>
<circle cx="82.41" cy="219.89" r="1.1" fill="#ff0000"/>
<circle cx="83.20" cy="221.79" r="1.1" fill="#ff0000"/>
<circle cx="84.00" cy="223.21" r="1.1" fill="#ff0000"/>
<circle cx="84.79" cy="224.30" r="1.1" fill="#ff0000"/>
<circle cx="85.59" cy="224.84" r="1.1" fill="#ff0000"/>
<circle cx="86.38" cy="225.39" r="1.1" fill="#ff0000"/>
<circle cx="87.18" cy="216.00" r="1.1" fill="#ff0000"/>
<circle cx="87.97" cy="194.03" r="1.1" fill="#ff0000"/>
<circle cx="88.76" cy="183.25" r="1.1" fill="#ff0000"/>
<circle cx="89.56" cy="176.46" r="1.1" fill="#ff0000"/>
<circle cx="90.35" cy="170.02" r="1.1" fill="#ff0000"/>
<circle cx="91.15" cy="163.94" r="1.1" fill="#ff0000"/>
<circle cx="91.94" cy="161.28" r="1.1" fill="#ff0000"/>
<circle cx="92.74" cy="158.61" r="1.1" fill="#ff0000"/>
<circle cx="93.53" cy="160.69" r="1.1" fill="#ff0000"/>
<circle cx="94.33" cy="163.25" r="1.1" fill="#ff0000"/>
<circle cx="95.12" cy="167.84" r="1.1" fill="#ff0000"/>
<circle cx="95.92" cy="173.34" r="1.1" fill="#ff0000"/>
<circle cx="96.71" cy="180.25" r="1.1" fill="#ff0000"/>
<circle cx="97.50" cy="188.73" r="1.1" fill="#ff0000"/>
<circle cx="98.30" cy="195.56" r="1.1" fill="#ff0000"/>
<circle cx="99.09" cy="199.96" r="1.1" fill="#ff0000"/>
<circle cx="99.89" cy="202.16" r="1.1" fill="#ff0000"/>
<circle cx="100.68" cy="204.35" r="1.1" fill="#ff0000"/>
<circle cx="101.48" cy="204.77" r="1.1" fill="#ff0000"/>
<circle cx="102.27" cy="205.14" r="1.1" fill="#ff0000"/>
<circle cx="103.07" cy="205.69" r="1.1" fill="#ff0000"/>
<circle cx="103.86" cy="206.35" r="1.1" fill="#ff0000"/>
<circle cx="104.66" cy="205.24" r="1.1" fill="#ff0000"/>
<circle cx="105.45" cy="200.07" r="1.1" fill="#ff0000"/>
<circle cx="106.25" cy="190.09" r="1.1" fill="#ff0000"/>
<circle cx="107.04" cy="181.04" r="1.1" fill="#ff0000"/>
<circle cx="107.83" cy="173.65" r="1.1" fill="#ff0000"/>
<circle cx="108.63" cy="168.46" r="1.1" fill="#ff0000"/>
<circle cx="109.42" cy="164.48" r="1.1" fill="#ff0000"/>
<circle cx="110.22" cy="163.62" r="1.1" fill="#ff0000"/>
<circle cx="111.01" cy="163.10" r="1.1" fill="#ff0000"/>
<circle cx="111.81" cy="162.97" r="1.1" fill="#ff0000"/>
<circle cx="112.60" cy="162.85" r="1.1" fill="#ff0000"/>
<circle cx="113.40" cy="165.06" r="1.1" fill="#ff0000"/>
<circle cx="114.19" cy="169.48" r="1.1" fill="#ff0000"/>
<circle cx="114.99" cy="174.76" r="1.1" fill="#ff0000"/>
<circle cx="115.78" cy="180.18" r="1.1" fill="#ff0000"/>
<circle cx="116.57" cy="184.43" r="1.1" fill="#ff0000"/>
<circle cx="117.37" cy="187.51" r="1.1" fill="#ff0000"/>
<circle cx="118.16" cy="189.47" r="1.1" fill="#ff0000"/>
<circle cx="118.96" cy="191.00" r="1.1" fill="#ff0000"/>
<circle cx="119.75" cy="192.21" r="1.1" fill="#ff0000"/>
<circle cx="120.55" cy="193.52" r="1.1" fill="#ff0000"/>
<circle cx="121.34" cy="195.27" r="1.1" fill="#ff0000"/>
<circle cx="122.14" cy="196.74" r="1.1" fill="#ff0000"/>
<circle cx="122.93" cy="197.53" r="1.1" fill="#ff0000"/>
<circle cx="123.73" cy="197.44" r="1.1" fill="#ff0000"/>
<circle cx="124.52" cy="196.76" r="1.1" fill="#ff0000"/>
<circle cx="125.32" cy="191.34" r="1.1" fill="#ff0000"/>
<circle cx="126.11" cy="185.58" r="1.1" fill="#ff0000"/>
<circle cx="126.90" cy="179.67" r="1.1" fill="#ff0000"/>
<circle cx="127.70" cy="174.81" r="1.1" fill="#ff0000"/>
<circle cx="128.49" cy="172.85" r="1.1" fill="#ff0000"/>
<circle cx="129.29" cy="175.03" r="1.1" fill="#ff0000"/>
<circle cx="130.08" cy="182.84" r="1.1" fill="#ff0000"/>
<circle cx="130.88" cy="195.03" r="1.1" fill="#ff0000"/>
<circle cx="131.67" cy="202.67" r="1.1" fill="#ff0000"/>
<circle cx="132.47" cy="204.52" r="1.1" fill="#ff0000"/>
<circle cx="133.26" cy="203.75" r="1.1" fill="#ff0000"/>
<circle cx="134.06" cy="201.40" r="1.1" fill="#ff0000"/>
<circle cx="134.85" cy="200.40" r="1.1" fill="#ff0000"/>
<circle cx="135.64" cy="200.32" r="1.1" fill="#ff0000"/>
<circle cx="136.44" cy="202.35" r="1.1" fill="#ff0000"/>
<circle cx="137.23" cy="205.99" r="1.1" fill="#ff0000"/>
<circle cx="138.03" cy="209.62" r="1.1" fill="#ff0000"/>
<circle cx="138.82" cy="213.07" r="1.1" fill="#ff0000"/>
<circle cx="139.62" cy="215.48" r="1.1" fill="#ff0000"/>
<circle cx="140.41" cy="216.96" r="1.1" fill="#ff0000"/>
<circle cx="141.21" cy="218.63" r="1.1" fill="#ff0000"/>
<circle cx="142.00" cy="220.40" r="1.1" fill="#ff0000"/>
<circle cx="142.80" cy="222.30" r="1.1" fill="#ff0000"/>
<circle cx="143.59" cy="221.56" r="1.1" fill="#ff0000"/>
<circle cx="144.38" cy="215.08" r="1.1" fill="#ff0000"/>
<circle cx="145.18" cy="204.67" r="1.1" fill="#ff0000"/>
<circle cx="145.97" cy="193.91" r="1.1" fill="#ff0000"/>
<circle cx="146.77" cy="183.13" r="1.1" fill="#ff0000"/>
<circle cx="147.56" cy="174.70" r="1.1" fill="#ff0000"/>
<circle cx="148.36" cy="169.10" r="1.1" fill="#ff0000"/>
<circle cx="149.15" cy="165.96" r="1.1" fill="#ff0000"/>
<circle cx="149.95" cy="165.35" r="1.1" fill="#ff0000"/>
<circle cx="150.74" cy="166.00" r="1.1" fill="#ff0000"/>
<circle cx="151.54" cy="168.32" r="1.1" fill="#ff0000"/>
<circle cx="152.33" cy="173.10" r="1.1" fill="#ff0000"/>
<circle cx="153.13" cy="179.03" r="1.1" fill="#ff0000"/>
<circle cx="153.92" cy="186.33" r="1.1" fill="#ff0000"/>
<circle cx="154.71" cy="197.06" r="1.1" fill="#ff0000"/>
<circle cx="155.51" cy="205.73" r="1.1" fill="#ff0000"/>
<circle cx="156.30" cy="211.78" r="1.1" fill="#ff0000"/>
<circle cx="157.10" cy="215.27" r="1.1" fill="#ff0000"/>
<circle cx="157.89" cy="217.72" r="1.1" fill="#ff0000"/>
<circle cx="158.69" cy="219.51" r="1.1" fill="#ff0000"/>
<circle cx="159.48" cy="221.03" r="1.1" fill="#ff0000"/>
<circle cx="160.28" cy="221.61" r="1.1" fill="#ff0000"/>
<circle cx="161.07" cy="222.18" r="1.1" fill="#ff0000"/>
<circle cx="161.87" cy="222.79" r="1.1" fill="#ff0000"/>
<circle cx="162.66" cy="220.99" r="1.1" fill="#ff0000"/>
<circle cx="163.45" cy="213.73" r="1.1" fill="#ff0000"/>
<circle cx="164.25" cy="199.69" r="1.1" fill="#ff0000"/>
<circle cx="165.04" cy="187.64" r="1.1" fill="#ff0000"/>
<circle cx="165.84" cy="176.50" r="1.1" fill="#ff0000"/>
<circle cx="166.63" cy="169.10" r="1.1" fill="#ff0000"/>
<circle cx="167.43" cy="164.52" r="1.1" fill="#ff0000"/>
<circle cx="168.22" cy="162.56" r="1.1" fill="#ff0000"/>
<circle cx="169.02" cy="160.92" r="1.1" fill="#ff0000"/>
<circle cx="169.81" cy="161.86" r="1.1" fill="#ff0000"/>
<circle cx="170.61" cy="164.98" r="1.1" fill="#ff0000"/>
<circle cx="171.40" cy="169.65" r="1.1" fill="#ff0000"/>
<circle cx="172.20" cy="176.37" r="1.1" fill="#ff0000"/>
<circle cx="172.99" cy="188.13" r="1.1" fill="#ff0000"/>
<circle cx="173.78" cy="194.48" r="1.1" fill="#ff0000"/>
<circle cx="174.58" cy="197.54" r="1.1" fill="#ff0000"/>
<circle cx="175.37" cy="198.27" r="1.1" fill="#ff0000"/>
<circle cx="176.17" cy="198.99" r="1.1" fill="#ff0000"/>
<circle cx="176.96" cy="199.40" r="1.1" fill="#ff0000"/>
<circle cx="177.76" cy="199.68" r="1.1" fill="#ff0000"/>
<circle cx="178.55" cy="199.38" r="1.1" fill="#ff0000"/>
<circle cx="179.35" cy="198.63" r="1.1" fill="#ff0000"/>
<circle cx="180.14" cy="198.56" r="1.1" fill="#ff0000"/>
<circle cx="180.94" cy="199.04" r="1.1" fill="#ff0000"/>
<circle cx="181.73" cy="198.83" r="1.1" fill="#ff0000"/>
<circle cx="182.52" cy="198.32" r="1.1" fill="#ff0000"/>
<circle cx="183.32" cy="199.12" r="1.1" fill="#ff0000"/>
<circle cx="184.11" cy="200.14" r="1.1" fill="#ff0000"/>
<circle cx="184.91" cy="202.53" r="1.1" fill="#ff0000"/>
<circle cx="185.70" cy="204.21" r="1.1" fill="#ff0000"/>
<circle cx="186.50" cy="205.66" r="1.1" fill="#ff0000"/>
<circle cx="187.29" cy="207.84" r="1.1" fill="#ff0000"/>
<circle cx="188.09" cy="210.75" r="1.1" fill="#ff0000"/>
<circle cx="188.88" cy="212.25" r="1.1" fill="#ff0000"/>
<circle cx="189.68" cy="212.84" r="1.1" fill="#ff0000"/>
<circle cx="190.47" cy="211.60" r="1.1" fill="#ff0000"/>
<circle cx="191.27" cy="209.66" r="1.1" fill="#ff0000"/>
<circle cx="192.06" cy="208.75" r="1.1" fill="#ff0000"/>
<circle cx="192.85" cy="209.08" r="1.1" fill="#ff0000"/>
<circle cx="193.65" cy="209.70" r="1.1" fill="#ff0000"/>
<circle cx="194.44" cy="211.00" r="1.1" fill="#ff0000"/>
<circle cx="195.24" cy="212.31" r="1.1" fill="#ff0000"/>
<circle cx="196.03" cy="213.69" r="1.1" fill="#ff0000"/>
<circle cx="196.83" cy="214.74" r="1.1" fill="#ff0000"/>
<circle cx="197.62" cy="215.31" r="1.1" fill="#ff0000"/>
<circle cx="198.42" cy="215.80" r="1.1" fill="#ff0000"/>
<circle cx="199.21" cy="215.80" r="1.1" fill="#ff0000"/>
<circle cx="200.01" cy="215.80" r="1.1" fill="#ff0000"/>
<circle cx="200.80" cy="215.15" r="1.1" fill="#ff0000"/>
<circle cx="201.59" cy="213.87" r="1.1" fill="#ff0000"/>
<circle cx="202.39" cy="211.80" r="1.1" fill="#ff0000"/>
<circle cx="203.18" cy="207.19" r="1.1" fill="#ff0000"/>
<circle cx="203.98" cy="202.00" r="1.1" fill="#ff0000"/>
<circle cx="204.77" cy="195.71" r="1.1" fill="#ff0000"/>
<circle cx="205.57" cy="196.32" r="1.1" fill="#ff0000"/>
<circle cx="206.36" cy="196.76" r="1.1" fill="#ff0000"/>
<circle cx="207.16" cy="195.56" r="1.1" fill="#ff0000"/>
<circle cx="207.95" cy="194.58" r="1.1" fill="#ff0000"/>
<circle cx="208.75" cy="196.22" r="1.1" fill="#ff0000"/>
<circle cx="209.54" cy="198.58" r="1.1" fill="#ff0000"/>
<circle cx="210.34" cy="201.18" r="1.1" fill="#ff0000"/>
<circle cx="211.13" cy="205.21" r="1.1" fill="#ff0000"/>
<circle cx="211.92" cy="208.83" r="1.1" fill="#ff0000"/>
<circle cx="212.72" cy="210.29" r="1.1" fill="#ff0000"/>
<circle cx="213.51" cy="211.74" r="1.1" fill="#ff0000"/>
<circle cx="214.31" cy="212.36" r="1.1" fill="#ff0000"/>
<circle cx="215.10" cy="212.87" r="1.1" fill="#ff0000"/>
<circle cx="215.90" cy="213.41" r="1.1" fill="#ff0000"/>
<circle cx="216.69" cy="213.96" r="1.1" fill="#ff0000"/>
<circle cx="217.49" cy="214.76" r="1.1" fill="#ff0000"/>
<circle cx="218.28" cy="215.67" r="1.1" fill="#ff0000"/>
<circle cx="219.08" cy="215.12" r="1.1" fill="#ff0000"/>
<circle cx="219.87" cy="214.94" r="1.1" fill="#ff0000"/>
<circle cx="220.66" cy="217.01" r="1.1" fill="#ff0000"/>
<circle cx="221.46" cy="218.84" r="1.1" fill="#ff0000"/>
<circle cx="222.25" cy="220.18" r="1.1" fill="#ff0000"/>
<circle cx="223.05" cy="220.24" r="1.1" fill="#ff0000"/>
<circle cx="223.84" cy="217.48" r="1.1" fill="#ff0000"/>
<circle cx="224.64" cy="214.51" r="1.1" fill="#ff0000"/>
<circle cx="225.43" cy="210.54" r="1.1" fill="#ff0000"/>
<circle cx="226.23" cy="210.62" r="1.1" fill="#ff0000"/>
<circle cx="227.02" cy="211.79" r="1.1" fill="#ff0000"/>
<circle cx="227.82" cy="212.34" r="1.1" fill="#ff0000"/>
<circle cx="228.61" cy="212.82" r="1.1" fill="#ff0000"/>
<circle cx="229.41" cy="213.83" r="1.1" fill="#ff0000"/>
<circle cx="230.20" cy="215.14" r="1.1" fill="#ff0000"/>
<circle cx="230.99" cy="215.96" r="1.1" fill="#ff0000"/>
<circle cx="231.79" cy="216.29" r="1.1" fill="#ff0000"/>
<circle cx="232.58" cy="216.61" r="1.1" fill="#ff0000"/>
<circle cx="233.38" cy="216.88" r="1.1" fill="#ff0000"/>
<circle cx="234.17" cy="217.14" r="1.1" fill="#ff0000"/>
<circle cx="234.97" cy="217.39" r="1.1" fill="#ff0000"/>
<circle cx="235.76" cy="217.75" r="1.1" fill="#ff0000"/>
<circle cx="236.56" cy="218.11" r="1.1" fill="#ff0000"/>
<circle cx="237.35" cy="218.73" r="1.1" fill="#ff0000"/>
<circle cx="238.15" cy="220.48" r="1.1" fill="#ff0000"/>
<circle cx="238.94" cy="221.46" r="1.1" fill="#ff0000"/>
<circle cx="239.73" cy="220.67" r="1.1" fill="#ff0000"/>
<circle cx="240.53" cy="211.51" r="1.1" fill="#ff0000"/>
<circle cx="241.32" cy="201.14" r="1.1" fill="#ff0000"/>
<circle cx="242.12" cy="190.41" r="1.1" fill="#ff0000"/>
<circle cx="242.91" cy="184.45" r="1.1" fill="#ff0000"/>
<circle cx="243.71" cy="181.13" r="1.1" fill="#ff0000"/>
<circle cx="244.50" cy="180.24" r="1.1" fill="#ff0000"/>
<circle cx="245.30" cy="180.03" r="1.1" fill="#ff0000"/>
<circle cx="246.09" cy="182.96" r="1.1" fill="#ff0000"/>
<circle cx="246.89" cy="185.54" r="1.1" fill="#ff0000"/>
<circle cx="247.68" cy="187.36" r="1.1" fill="#ff0000"/>
<circle cx="248.48" cy="189.90" r="1.1" fill="#ff0000"/>
<circle cx="249.27" cy="196.63" r="1.1" fill="#ff0000"/>
<circle cx="250.06" cy="204.11" r="1.1" fill="#ff0000"/>
<circle cx="250.86" cy="209.75" r="1.1" fill="#ff0000"/>
<circle cx="251.65" cy="213.17" r="1.1" fill="#ff0000"/>
<circle cx="252.45" cy="215.01" r="1.1" fill="#ff0000"/>
<circle cx="253.24" cy="216.49" r="1.1" fill="#ff0000"/>
<circle cx="254.04" cy="217.78" r="1.1" fill="#ff0000"/>
<circle cx="254.83" cy="219.08" r="1.1" fill="#ff0000"/>
<circle cx="255.63" cy="221.03" r="1.1" fill="#ff0000"/>
<circle cx="256.42" cy="223.88" r="1.1" fill="#ff0000"/>
<circle cx="257.22" cy="227.31" r="1.1" fill="#ff0000"/>
<circle cx="258.01" cy="228.76" r="1.1" fill="#ff0000"/>
<circle cx="258.80" cy="225.40" r="1.1" fill="#ff0000"/>
<circle cx="259.60" cy="216.29" r="1.1" fill="#ff0000"/>
<circle cx="260.39" cy="207.09" r="1.1" fill="#ff0000"/>
<circle cx="261.19" cy="198.05" r="1.1" fill="#ff0000"/>
<circle cx="261.98" cy="189.82" r="1.1" fill="#ff0000"/>
<circle cx="262.78" cy="183.64" r="1.1" fill="#ff0000"/>
<circle cx="263.57" cy="181.96" r="1.1" fill="#ff0000"/>
<circle cx="264.37" cy="183.55" r="1.1" fill="#ff0000"/>
<circle cx="265.16" cy="185.60" r="1.1" fill="#ff0000"/>
<circle cx="265.96" cy="188.35" r="1.1" fill="#ff0000"/>
<circle cx="266.75" cy="192.57" r="1.1" fill="#ff0000"/>
<circle cx="267.55" cy="198.55" r="1.1" fill="#ff0000"/>
<circle cx="268.34" cy="206.71" r="1.1" fill="#ff0000"/>
<circle cx="269.13" cy="214.80" r="1.1" fill="#ff0000"/>
<circle cx="269.93" cy="220.24" r="1.1" fill="#ff0000"/>
<circle cx="270.72" cy="223.72" r="1.1" fill="#ff0000"/>
<circle cx="271.52" cy="225.58" r="1.1" fill="#ff0000"/>
<circle cx="272.31" cy="226.92" r="1.1" fill="#ff0000"/>
<circle cx="273.11" cy="228.97" r="1.1" fill="#ff0000"/>
<circle cx="273.90" cy="231.05" r="1.1" fill="#ff0000"/>
<circle cx="274.70" cy="232.44" r="1.1" fill="#ff0000"/>
<circle cx="275.49" cy="233.26" r="1.1" fill="#ff0000"/>
<circle cx="276.29" cy="233.89" r="1.1" fill="#ff0000"/>
<circle cx="277.08" cy="231.82" r="1.1" fill="#ff0000"/>
<circle cx="277.87" cy="227.78" r="1.1" fill="#ff0000"/>
<circle cx="278.67" cy="221.13" r="1.1" fill="#ff0000"/>
<circle cx="279.46" cy="213.54" r="1.1" fill="#ff0000"/>
<circle cx="280.26" cy="205.02" r="1.1" fill="#ff0000"/>
<circle cx="281.05" cy="201.10" r="1.1" fill="#ff0000"/>
<circle cx="281.85" cy="198.72" r="1.1" fill="#ff0000"/>
<circle cx="282.64" cy="197.51" r="1.1" fill="#ff0000"/>
<circle cx="283.44" cy="196.82" r="1.1" fill="#ff0000"/>
<circle cx="284.23" cy="198.70" r="1.1" fill="#ff0000"/>
<circle cx="285.03" cy="200.04" r="1.1" fill="#ff0000"/>
<circle cx="285.82" cy="201.86" r="1.1" fill="#ff0000"/>
<circle cx="286.62" cy="205.30" r="1.1" fill="#ff0000"/>
</g>
<g clip-path="url(#clipc)">
<polyline points="39.40,392.00 39.90,394.40 47.10,394.40 47.80,385.00 48.50,367.80 49.50,348.20 50.50,328.40 51.30,313.30 52.10,303.20 53.00,296.10 53.80,299.10 55.00,312.30 56.00,325.00 56.80,344.60 57.60,365.80 58.20,390.00 58.80,394.40 66.30,394.40 67.30,370.90 68.30,348.20 69.30,329.40 70.30,313.30 71.30,301.20 72.30,295.10 73.60,301.20 74.40,309.20 75.40,324.40 76.20,343.60 77.00,364.80 77.60,390.00 78.40,394.40 85.90,394.40 86.50,370.90 87.10,349.60 88.10,332.50 88.90,317.30 89.70,307.20 90.50,299.10 91.30,303.20 92.10,301.20 93.00,313.30 94.20,327.40 95.20,345.60 96.00,367.80 96.80,390.00 97.20,394.40 104.50,394.40 105.70,370.90 106.70,351.70 107.70,333.10 108.70,315.30 109.50,304.20 110.10,302.80 110.70,307.20 111.60,305.20 112.40,313.30 113.40,331.50 114.60,353.70 115.80,375.90 117.00,392.10 117.60,394.40 123.70,394.40 124.30,386.00 125.10,369.80 125.90,353.70 126.70,334.50 127.50,328.40 128.30,343.60 128.90,374.90 129.50,376.90 129.90,384.00 130.70,377.90 131.20,388.00 132.00,384.00 132.80,383.00 133.60,387.00 134.00,394.40 143.10,394.40 143.90,382.00 144.50,367.80 145.10,347.60 145.90,329.40 146.50,313.30 147.30,302.20 148.10,296.10 148.90,294.70 149.70,301.20 150.50,309.20 151.40,324.40 152.20,345.60 153.00,365.80 154.00,388.00 154.60,394.40 161.70,394.40 162.70,369.80 163.70,352.70 164.50,334.50 165.30,322.40 166.10,304.20 166.90,297.50 167.70,296.10 168.50,301.20 169.60,313.30 170.60,331.50 171.40,348.60 172.20,381.00 172.80,394.40 181.30,394.40 181.90,388.00 182.70,385.00 183.50,390.00 184.30,387.00 185.30,386.00 186.30,387.00 187.50,384.00 188.30,382.00 189.20,378.90 189.80,370.90 190.40,377.90 191.00,380.00 191.60,387.00 192.20,394.40 200.50,394.40 201.10,387.00 201.90,369.80 202.70,355.70 203.50,341.60 204.30,335.50 205.10,337.50 205.90,349.60 206.90,350.70 207.70,366.80 208.50,374.90 209.40,387.00 210.20,392.10 210.80,394.40 220.10,394.40 220.90,390.00 221.70,388.00 222.50,384.00 223.30,377.90 224.10,372.30 224.70,373.90 225.30,372.90 225.90,380.00 226.50,384.00 227.40,390.00 228.20,392.10 229.40,394.10 230.20,394.40 238.30,394.40 239.10,373.90 240.30,354.70 241.30,333.50 242.10,316.30 242.90,305.20 243.70,300.20 244.50,307.20 245.50,309.20 246.30,315.30 247.20,332.50 248.00,349.60 248.80,371.90 249.60,394.40 258.00,394.40 258.90,383.60 259.70,373.90 260.50,353.70 261.10,333.50 261.90,324.40 262.70,319.30 263.50,310.30 264.50,313.30 265.40,336.50 266.20,337.10 267.00,350.70 267.80,374.90 268.60,394.40 276.90,394.40 277.70,376.90 278.70,351.70 279.50,332.50 280.10,318.30 280.70,313.30 281.30,311.30 281.90,317.30 282.50,307.20 283.30,304.20 283.90,327.40 284.70,333.50 286.00,351.70 286.80,371.90 287.20,388.00 287.70,394.40" fill="none" stroke="#008000" stroke-width="1.05" stroke-linejoin="round"/>
<circle cx="39.4" cy="392" r="1.15" fill="#008000"/>
<circle cx="39.9" cy="394.4" r="1.15" fill="#008000"/>
<circle cx="47.1" cy="394.4" r="1.15" fill="#008000"/>
<circle cx="47.8" cy="385" r="1.15" fill="#008000"/>
<circle cx="48.5" cy="367.8" r="1.15" fill="#008000"/>
<circle cx="49.5" cy="348.2" r="1.15" fill="#008000"/>
<circle cx="50.5" cy="328.4" r="1.15" fill="#008000"/>
<circle cx="51.3" cy="313.3" r="1.15" fill="#008000"/>
<circle cx="52.1" cy="303.2" r="1.15" fill="#008000"/>
<circle cx="53" cy="296.1" r="1.15" fill="#008000"/>
<circle cx="53.8" cy="299.1" r="1.15" fill="#008000"/>
<circle cx="55" cy="312.3" r="1.15" fill="#008000"/>
<circle cx="56" cy="325" r="1.15" fill="#008000"/>
<circle cx="56.8" cy="344.6" r="1.15" fill="#008000"/>
<circle cx="57.6" cy="365.8" r="1.15" fill="#008000"/>
<circle cx="58.2" cy="390" r="1.15" fill="#008000"/>
<circle cx="58.8" cy="394.4" r="1.15" fill="#008000"/>
<circle cx="66.3" cy="394.4" r="1.15" fill="#008000"/>
<circle cx="67.3" cy="370.9" r="1.15" fill="#008000"/>
<circle cx="68.3" cy="348.2" r="1.15" fill="#008000"/>
<circle cx="69.3" cy="329.4" r="1.15" fill="#008000"/>
<circle cx="70.3" cy="313.3" r="1.15" fill="#008000"/>
<circle cx="71.3" cy="301.2" r="1.15" fill="#008000"/>
<circle cx="72.3" cy="295.1" r="1.15" fill="#008000"/>
<circle cx="73.6" cy="301.2" r="1.15" fill="#008000"/>
<circle cx="74.4" cy="309.2" r="1.15" fill="#008000"/>
<circle cx="75.4" cy="324.4" r="1.15" fill="#008000"/>
<circle cx="76.2" cy="343.6" r="1.15" fill="#008000"/>
<circle cx="77" cy="364.8" r="1.15" fill="#008000"/>
<circle cx="77.6" cy="390" r="1.15" fill="#008000"/>
<circle cx="78.4" cy="394.4" r="1.15" fill="#008000"/>
<circle cx="85.9" cy="394.4" r="1.15" fill="#008000"/>
<circle cx="86.5" cy="370.9" r="1.15" fill="#008000"/>
<circle cx="87.1" cy="349.6" r="1.15" fill="#008000"/>
<circle cx="88.1" cy="332.5" r="1.15" fill="#008000"/>
<circle cx="88.9" cy="317.3" r="1.15" fill="#008000"/>
<circle cx="89.7" cy="307.2" r="1.15" fill="#008000"/>
<circle cx="90.5" cy="299.1" r="1.15" fill="#008000"/>
<circle cx="91.3" cy="303.2" r="1.15" fill="#008000"/>
<circle cx="92.1" cy="301.2" r="1.15" fill="#008000"/>
<circle cx="93" cy="313.3" r="1.15" fill="#008000"/>
<circle cx="94.2" cy="327.4" r="1.15" fill="#008000"/>
<circle cx="95.2" cy="345.6" r="1.15" fill="#008000"/>
<circle cx="96" cy="367.8" r="1.15" fill="#008000"/>
<circle cx="96.8" cy="390" r="1.15" fill="#008000"/>
<circle cx="97.2" cy="394.4" r="1.15" fill="#008000"/>
<circle cx="104.5" cy="394.4" r="1.15" fill="#008000"/>
<circle cx="105.7" cy="370.9" r="1.15" fill="#008000"/>
<circle cx="106.7" cy="351.7" r="1.15" fill="#008000"/>
<circle cx="107.7" cy="333.1" r="1.15" fill="#008000"/>
<circle cx="108.7" cy="315.3" r="1.15" fill="#008000"/>
<circle cx="109.5" cy="304.2" r="1.15" fill="#008000"/>
<circle cx="110.1" cy="302.8" r="1.15" fill="#008000"/>
<circle cx="110.7" cy="307.2" r="1.15" fill="#008000"/>
<circle cx="111.6" cy="305.2" r="1.15" fill="#008000"/>
<circle cx="112.4" cy="313.3" r="1.15" fill="#008000"/>
<circle cx="113.4" cy="331.5" r="1.15" fill="#008000"/>
<circle cx="114.6" cy="353.7" r="1.15" fill="#008000"/>
<circle cx="115.8" cy="375.9" r="1.15" fill="#008000"/>
<circle cx="117" cy="392.1" r="1.15" fill="#008000"/>
<circle cx="117.6" cy="394.4" r="1.15" fill="#008000"/>
<circle cx="123.7" cy="394.4" r="1.15" fill="#008000"/>
<circle cx="124.3" cy="386" r="1.15" fill="#008000"/>
<circle cx="125.1" cy="369.8" r="1.15" fill="#008000"/>
<circle cx="125.9" cy="353.7" r="1.15" fill="#008000"/>
<circle cx="126.7" cy="334.5" r="1.15" fill="#008000"/>
<circle cx="127.5" cy="328.4" r="1.15" fill="#008000"/>
<circle cx="128.3" cy="343.6" r="1.15" fill="#008000"/>
<circle cx="128.9" cy="374.9" r="1.15" fill="#008000"/>
<circle cx="129.5" cy="376.9" r="1.15" fill="#008000"/>
<circle cx="129.9" cy="384" r="1.15" fill="#008000"/>
<circle cx="130.7" cy="377.9" r="1.15" fill="#008000"/>
<circle cx="131.2" cy="388" r="1.15" fill="#008000"/>
<circle cx="132" cy="384" r="1.15" fill="#008000"/>
<circle cx="132.8" cy="383" r="1.15" fill="#008000"/>
<circle cx="133.6" cy="387" r="1.15" fill="#008000"/>
<circle cx="134" cy="394.4" r="1.15" fill="#008000"/>
<circle cx="143.1" cy="394.4" r="1.15" fill="#008000"/>
<circle cx="143.9" cy="382" r="1.15" fill="#008000"/>
<circle cx="144.5" cy="367.8" r="1.15" fill="#008000"/>
<circle cx="145.1" cy="347.6" r="1.15" fill="#008000"/>
<circle cx="145.9" cy="329.4" r="1.15" fill="#008000"/>
<circle cx="146.5" cy="313.3" r="1.15" fill="#008000"/>
<circle cx="147.3" cy="302.2" r="1.15" fill="#008000"/>
<circle cx="148.1" cy="296.1" r="1.15" fill="#008000"/>
<circle cx="148.9" cy="294.7" r="1.15" fill="#008000"/>
<circle cx="149.7" cy="301.2" r="1.15" fill="#008000"/>
<circle cx="150.5" cy="309.2" r="1.15" fill="#008000"/>
<circle cx="151.4" cy="324.4" r="1.15" fill="#008000"/>
<circle cx="152.2" cy="345.6" r="1.15" fill="#008000"/>
<circle cx="153" cy="365.8" r="1.15" fill="#008000"/>
<circle cx="154" cy="388" r="1.15" fill="#008000"/>
<circle cx="154.6" cy="394.4" r="1.15" fill="#008000"/>
<circle cx="161.7" cy="394.4" r="1.15" fill="#008000"/>
<circle cx="162.7" cy="369.8" r="1.15" fill="#008000"/>
<circle cx="163.7" cy="352.7" r="1.15" fill="#008000"/>
<circle cx="164.5" cy="334.5" r="1.15" fill="#008000"/>
<circle cx="165.3" cy="322.4" r="1.15" fill="#008000"/>
<circle cx="166.1" cy="304.2" r="1.15" fill="#008000"/>
<circle cx="166.9" cy="297.5" r="1.15" fill="#008000"/>
<circle cx="167.7" cy="296.1" r="1.15" fill="#008000"/>
<circle cx="168.5" cy="301.2" r="1.15" fill="#008000"/>
<circle cx="169.6" cy="313.3" r="1.15" fill="#008000"/>
<circle cx="170.6" cy="331.5" r="1.15" fill="#008000"/>
<circle cx="171.4" cy="348.6" r="1.15" fill="#008000"/>
<circle cx="172.2" cy="381" r="1.15" fill="#008000"/>
<circle cx="172.8" cy="394.4" r="1.15" fill="#008000"/>
<circle cx="181.3" cy="394.4" r="1.15" fill="#008000"/>
<circle cx="181.9" cy="388" r="1.15" fill="#008000"/>
<circle cx="182.7" cy="385" r="1.15" fill="#008000"/>
<circle cx="183.5" cy="390" r="1.15" fill="#008000"/>
<circle cx="184.3" cy="387" r="1.15" fill="#008000"/>
<circle cx="185.3" cy="386" r="1.15" fill="#008000"/>
<circle cx="186.3" cy="387" r="1.15" fill="#008000"/>
<circle cx="187.5" cy="384" r="1.15" fill="#008000"/>
<circle cx="188.3" cy="382" r="1.15" fill="#008000"/>
<circle cx="189.2" cy="378.9" r="1.15" fill="#008000"/>
<circle cx="189.8" cy="370.9" r="1.15" fill="#008000"/>
<circle cx="190.4" cy="377.9" r="1.15" fill="#008000"/>
<circle cx="191" cy="380" r="1.15" fill="#008000"/>
<circle cx="191.6" cy="387" r="1.15" fill="#008000"/>
<circle cx="192.2" cy="394.4" r="1.15" fill="#008000"/>
<circle cx="200.5" cy="394.4" r="1.15" fill="#008000"/>
<circle cx="201.1" cy="387" r="1.15" fill="#008000"/>
<circle cx="201.9" cy="369.8" r="1.15" fill="#008000"/>
<circle cx="202.7" cy="355.7" r="1.15" fill="#008000"/>
<circle cx="203.5" cy="341.6" r="1.15" fill="#008000"/>
<circle cx="204.3" cy="335.5" r="1.15" fill="#008000"/>
<circle cx="205.1" cy="337.5" r="1.15" fill="#008000"/>
<circle cx="205.9" cy="349.6" r="1.15" fill="#008000"/>
<circle cx="206.9" cy="350.7" r="1.15" fill="#008000"/>
<circle cx="207.7" cy="366.8" r="1.15" fill="#008000"/>
<circle cx="208.5" cy="374.9" r="1.15" fill="#008000"/>
<circle cx="209.4" cy="387" r="1.15" fill="#008000"/>
<circle cx="210.2" cy="392.1" r="1.15" fill="#008000"/>
<circle cx="210.8" cy="394.4" r="1.15" fill="#008000"/>
<circle cx="220.1" cy="394.4" r="1.15" fill="#008000"/>
<circle cx="220.9" cy="390" r="1.15" fill="#008000"/>
<circle cx="221.7" cy="388" r="1.15" fill="#008000"/>
<circle cx="222.5" cy="384" r="1.15" fill="#008000"/>
<circle cx="223.3" cy="377.9" r="1.15" fill="#008000"/>
<circle cx="224.1" cy="372.3" r="1.15" fill="#008000"/>
<circle cx="224.7" cy="373.9" r="1.15" fill="#008000"/>
<circle cx="225.3" cy="372.9" r="1.15" fill="#008000"/>
<circle cx="225.9" cy="380" r="1.15" fill="#008000"/>
<circle cx="226.5" cy="384" r="1.15" fill="#008000"/>
<circle cx="227.4" cy="390" r="1.15" fill="#008000"/>
<circle cx="228.2" cy="392.1" r="1.15" fill="#008000"/>
<circle cx="229.4" cy="394.1" r="1.15" fill="#008000"/>
<circle cx="230.2" cy="394.4" r="1.15" fill="#008000"/>
<circle cx="238.3" cy="394.4" r="1.15" fill="#008000"/>
<circle cx="239.1" cy="373.9" r="1.15" fill="#008000"/>
<circle cx="240.3" cy="354.7" r="1.15" fill="#008000"/>
<circle cx="241.3" cy="333.5" r="1.15" fill="#008000"/>
<circle cx="242.1" cy="316.3" r="1.15" fill="#008000"/>
<circle cx="242.9" cy="305.2" r="1.15" fill="#008000"/>
<circle cx="243.7" cy="300.2" r="1.15" fill="#008000"/>
<circle cx="244.5" cy="307.2" r="1.15" fill="#008000"/>
<circle cx="245.5" cy="309.2" r="1.15" fill="#008000"/>
<circle cx="246.3" cy="315.3" r="1.15" fill="#008000"/>
<circle cx="247.2" cy="332.5" r="1.15" fill="#008000"/>
<circle cx="248" cy="349.6" r="1.15" fill="#008000"/>
<circle cx="248.8" cy="371.9" r="1.15" fill="#008000"/>
<circle cx="249.6" cy="394.4" r="1.15" fill="#008000"/>
<circle cx="258" cy="394.4" r="1.15" fill="#008000"/>
<circle cx="258.9" cy="383.6" r="1.15" fill="#008000"/>
<circle cx="259.7" cy="373.9" r="1.15" fill="#008000"/>
<circle cx="260.5" cy="353.7" r="1.15" fill="#008000"/>
<circle cx="261.1" cy="333.5" r="1.15" fill="#008000"/>
<circle cx="261.9" cy="324.4" r="1.15" fill="#008000"/>
<circle cx="262.7" cy="319.3" r="1.15" fill="#008000"/>
<circle cx="263.5" cy="310.3" r="1.15" fill="#008000"/>
<circle cx="264.5" cy="313.3" r="1.15" fill="#008000"/>
<circle cx="265.4" cy="336.5" r="1.15" fill="#008000"/>
<circle cx="266.2" cy="337.1" r="1.15" fill="#008000"/>
<circle cx="267" cy="350.7" r="1.15" fill="#008000"/>
<circle cx="267.8" cy="374.9" r="1.15" fill="#008000"/>
<circle cx="268.6" cy="394.4" r="1.15" fill="#008000"/>
<circle cx="276.9" cy="394.4" r="1.15" fill="#008000"/>
<circle cx="277.7" cy="376.9" r="1.15" fill="#008000"/>
<circle cx="278.7" cy="351.7" r="1.15" fill="#008000"/>
<circle cx="279.5" cy="332.5" r="1.15" fill="#008000"/>
<circle cx="280.1" cy="318.3" r="1.15" fill="#008000"/>
<circle cx="280.7" cy="313.3" r="1.15" fill="#008000"/>
<circle cx="281.3" cy="311.3" r="1.15" fill="#008000"/>
<circle cx="281.9" cy="317.3" r="1.15" fill="#008000"/>
<circle cx="282.5" cy="307.2" r="1.15" fill="#008000"/>
<circle cx="283.3" cy="304.2" r="1.15" fill="#008000"/>
<circle cx="283.9" cy="327.4" r="1.15" fill="#008000"/>
<circle cx="284.7" cy="333.5" r="1.15" fill="#008000"/>
<circle cx="286" cy="351.7" r="1.15" fill="#008000"/>
<circle cx="286.8" cy="371.9" r="1.15" fill="#008000"/>
<circle cx="287.2" cy="388" r="1.15" fill="#008000"/>
<circle cx="287.7" cy="394.4" r="1.15" fill="#008000"/>
</g>
<circle cx="52.5" cy="497.0" r="1.3" fill="#00bfbf"/>
<circle cx="53.5" cy="498.5" r="1.3" fill="#00bfbf"/>
<circle cx="54.5" cy="497.5" r="1.3" fill="#00bfbf"/>
<circle cx="52.0" cy="496.0" r="1.3" fill="#00bfbf"/>
<circle cx="53.0" cy="493.0" r="1.3" fill="#00bfbf"/>
<circle cx="54.2" cy="492.5" r="1.3" fill="#00bfbf"/>
<circle cx="52.8" cy="500.0" r="1.3" fill="#00bfbf"/>
<circle cx="51.8" cy="499.0" r="1.3" fill="#00bfbf"/>
<circle cx="71.0" cy="498.5" r="1.3" fill="#00bfbf"/>
<circle cx="72.0" cy="499.8" r="1.3" fill="#00bfbf"/>
<circle cx="70.5" cy="501.5" r="1.3" fill="#00bfbf"/>
<circle cx="72.3" cy="502.0" r="1.3" fill="#00bfbf"/>
<circle cx="73.2" cy="503.0" r="1.3" fill="#00bfbf"/>
<circle cx="69.8" cy="502.2" r="1.3" fill="#00bfbf"/>
<circle cx="106.5" cy="493.5" r="1.3" fill="#00bfbf"/>
<circle cx="107.5" cy="494.0" r="1.3" fill="#00bfbf"/>
<circle cx="108.0" cy="491.5" r="1.3" fill="#00bfbf"/>
<circle cx="106.0" cy="496.5" r="1.3" fill="#00bfbf"/>
<circle cx="107.0" cy="489.5" r="1.3" fill="#00bfbf"/>
<circle cx="39.5" cy="513.4" r="1.3" fill="#00bfbf"/>
<circle cx="48.3" cy="510.0" r="1.3" fill="#00bfbf"/>
<circle cx="48.9" cy="508.2" r="1.3" fill="#00bfbf"/>
<circle cx="49.6" cy="509.1" r="1.3" fill="#00bfbf"/>
<circle cx="50.2" cy="507.2" r="1.3" fill="#00bfbf"/>
<circle cx="49.3" cy="511.0" r="1.3" fill="#00bfbf"/>
<circle cx="49.6" cy="511.9" r="1.3" fill="#00bfbf"/>
<circle cx="50.8" cy="506.3" r="1.3" fill="#00bfbf"/>
<circle cx="51.1" cy="503.5" r="1.3" fill="#00bfbf"/>
<circle cx="51.5" cy="500.7" r="1.3" fill="#00bfbf"/>
<circle cx="52.1" cy="498.8" r="1.3" fill="#00bfbf"/>
<circle cx="51.5" cy="502.5" r="1.3" fill="#00bfbf"/>
<circle cx="52.6" cy="495.0" r="1.3" fill="#00bfbf"/>
<circle cx="53.4" cy="494.1" r="1.3" fill="#00bfbf"/>
<circle cx="53.9" cy="496.0" r="1.3" fill="#00bfbf"/>
<circle cx="54.5" cy="495.0" r="1.3" fill="#00bfbf"/>
<circle cx="53.0" cy="496.9" r="1.3" fill="#00bfbf"/>
<circle cx="52.1" cy="487.5" r="1.3" fill="#00bfbf"/>
<circle cx="53.9" cy="487.5" r="1.3" fill="#00bfbf"/>
<circle cx="53.9" cy="478.1" r="1.3" fill="#00bfbf"/>
<circle cx="53.9" cy="499.7" r="1.3" fill="#00bfbf"/>
<circle cx="54.5" cy="503.5" r="1.3" fill="#00bfbf"/>
<circle cx="55.3" cy="505.3" r="1.3" fill="#00bfbf"/>
<circle cx="56.0" cy="506.3" r="1.3" fill="#00bfbf"/>
<circle cx="55.8" cy="510.0" r="1.3" fill="#00bfbf"/>
<circle cx="56.4" cy="511.9" r="1.3" fill="#00bfbf"/>
<circle cx="56.8" cy="513.8" r="1.3" fill="#00bfbf"/>
<circle cx="57.3" cy="514.7" r="1.3" fill="#00bfbf"/>
<circle cx="57.7" cy="516.6" r="1.3" fill="#00bfbf"/>
<circle cx="57.1" cy="517.9" r="1.3" fill="#00bfbf"/>
<circle cx="58.3" cy="514.7" r="1.3" fill="#00bfbf"/>
<circle cx="68.0" cy="506.3" r="1.3" fill="#00bfbf"/>
<circle cx="69.0" cy="505.3" r="1.3" fill="#00bfbf"/>
<circle cx="67.6" cy="508.2" r="1.3" fill="#00bfbf"/>
<circle cx="68.4" cy="509.7" r="1.3" fill="#00bfbf"/>
<circle cx="69.5" cy="503.5" r="1.3" fill="#00bfbf"/>
<circle cx="70.3" cy="500.7" r="1.3" fill="#00bfbf"/>
<circle cx="70.8" cy="498.8" r="1.3" fill="#00bfbf"/>
<circle cx="71.8" cy="499.2" r="1.3" fill="#00bfbf"/>
<circle cx="72.7" cy="500.7" r="1.3" fill="#00bfbf"/>
<circle cx="73.6" cy="501.6" r="1.3" fill="#00bfbf"/>
<circle cx="71.4" cy="502.5" r="1.3" fill="#00bfbf"/>
<circle cx="72.7" cy="504.4" r="1.3" fill="#00bfbf"/>
<circle cx="73.6" cy="506.3" r="1.3" fill="#00bfbf"/>
<circle cx="74.6" cy="508.2" r="1.3" fill="#00bfbf"/>
<circle cx="75.1" cy="510.0" r="1.3" fill="#00bfbf"/>
<circle cx="75.5" cy="511.9" r="1.3" fill="#00bfbf"/>
<circle cx="76.1" cy="513.8" r="1.3" fill="#00bfbf"/>
<circle cx="77.0" cy="514.7" r="1.3" fill="#00bfbf"/>
<circle cx="77.8" cy="515.7" r="1.3" fill="#00bfbf"/>
<circle cx="90.9" cy="461.3" r="1.3" fill="#00bfbf"/>
<circle cx="91.5" cy="463.1" r="1.3" fill="#00bfbf"/>
<circle cx="91.8" cy="465.0" r="1.3" fill="#00bfbf"/>
<circle cx="90.9" cy="466.9" r="1.3" fill="#00bfbf"/>
<circle cx="90.2" cy="470.6" r="1.3" fill="#00bfbf"/>
<circle cx="89.6" cy="472.5" r="1.3" fill="#00bfbf"/>
<circle cx="90.9" cy="473.5" r="1.3" fill="#00bfbf"/>
<circle cx="91.5" cy="475.3" r="1.3" fill="#00bfbf"/>
<circle cx="94.3" cy="477.2" r="1.3" fill="#00bfbf"/>
<circle cx="88.7" cy="480.0" r="1.3" fill="#00bfbf"/>
<circle cx="88.3" cy="489.4" r="1.3" fill="#00bfbf"/>
<circle cx="87.7" cy="491.3" r="1.3" fill="#00bfbf"/>
<circle cx="87.2" cy="493.2" r="1.3" fill="#00bfbf"/>
<circle cx="87.7" cy="496.0" r="1.3" fill="#00bfbf"/>
<circle cx="87.3" cy="501.6" r="1.3" fill="#00bfbf"/>
<circle cx="94.3" cy="492.2" r="1.3" fill="#00bfbf"/>
<circle cx="95.2" cy="495.0" r="1.3" fill="#00bfbf"/>
<circle cx="94.8" cy="497.8" r="1.3" fill="#00bfbf"/>
<circle cx="95.8" cy="499.7" r="1.3" fill="#00bfbf"/>
<circle cx="96.2" cy="502.5" r="1.3" fill="#00bfbf"/>
<circle cx="90.9" cy="461.3" r="1.3" fill="#00bfbf"/>
<circle cx="91.5" cy="464.1" r="1.3" fill="#00bfbf"/>
<circle cx="90.9" cy="466.0" r="1.3" fill="#00bfbf"/>
<circle cx="90.6" cy="471.6" r="1.3" fill="#00bfbf"/>
<circle cx="90.9" cy="474.4" r="1.3" fill="#00bfbf"/>
<circle cx="91.5" cy="476.3" r="1.3" fill="#00bfbf"/>
<circle cx="94.1" cy="477.2" r="1.3" fill="#00bfbf"/>
<circle cx="94.7" cy="491.3" r="1.3" fill="#00bfbf"/>
<circle cx="95.3" cy="495.0" r="1.3" fill="#00bfbf"/>
<circle cx="95.6" cy="498.8" r="1.3" fill="#00bfbf"/>
<circle cx="96.0" cy="500.7" r="1.3" fill="#00bfbf"/>
<circle cx="96.6" cy="502.5" r="1.3" fill="#00bfbf"/>
<circle cx="110.6" cy="452.8" r="1.3" fill="#00bfbf"/>
<circle cx="111.0" cy="454.7" r="1.3" fill="#00bfbf"/>
<circle cx="112.1" cy="459.4" r="1.3" fill="#00bfbf"/>
<circle cx="110.3" cy="468.8" r="1.3" fill="#00bfbf"/>
<circle cx="112.1" cy="476.3" r="1.3" fill="#00bfbf"/>
<circle cx="111.6" cy="479.1" r="1.3" fill="#00bfbf"/>
<circle cx="112.1" cy="482.8" r="1.3" fill="#00bfbf"/>
<circle cx="109.3" cy="485.6" r="1.3" fill="#00bfbf"/>
<circle cx="108.4" cy="490.3" r="1.3" fill="#00bfbf"/>
<circle cx="107.8" cy="492.2" r="1.3" fill="#00bfbf"/>
<circle cx="106.9" cy="494.1" r="1.3" fill="#00bfbf"/>
<circle cx="107.3" cy="492.8" r="1.3" fill="#00bfbf"/>
<circle cx="106.5" cy="495.0" r="1.3" fill="#00bfbf"/>
<circle cx="105.9" cy="498.8" r="1.3" fill="#00bfbf"/>
<circle cx="105.9" cy="501.6" r="1.3" fill="#00bfbf"/>
<circle cx="105.4" cy="503.5" r="1.3" fill="#00bfbf"/>
<circle cx="127.1" cy="463.5" r="1.3" fill="#00bfbf"/>
<circle cx="127.5" cy="470.6" r="1.3" fill="#00bfbf"/>
<circle cx="126.8" cy="481.5" r="1.3" fill="#00bfbf"/>
<circle cx="127.1" cy="482.3" r="1.3" fill="#00bfbf"/>
<circle cx="126.6" cy="493.2" r="1.3" fill="#00bfbf"/>
<circle cx="126.2" cy="494.7" r="1.3" fill="#00bfbf"/>
<circle cx="125.6" cy="500.7" r="1.3" fill="#00bfbf"/>
<circle cx="125.1" cy="502.5" r="1.3" fill="#00bfbf"/>
<circle cx="125.3" cy="504.4" r="1.3" fill="#00bfbf"/>
<circle cx="124.7" cy="505.9" r="1.3" fill="#00bfbf"/>
<circle cx="124.7" cy="515.7" r="1.3" fill="#00bfbf"/>
<circle cx="143.8" cy="511.9" r="1.3" fill="#00bfbf"/>
<circle cx="144.7" cy="510.0" r="1.3" fill="#00bfbf"/>
<circle cx="145.6" cy="508.2" r="1.3" fill="#00bfbf"/>
<circle cx="146.6" cy="506.3" r="1.3" fill="#00bfbf"/>
<circle cx="147.5" cy="504.8" r="1.3" fill="#00bfbf"/>
<circle cx="148.4" cy="504.0" r="1.3" fill="#00bfbf"/>
<circle cx="149.4" cy="506.3" r="1.3" fill="#00bfbf"/>
<circle cx="150.3" cy="510.0" r="1.3" fill="#00bfbf"/>
<circle cx="151.3" cy="513.8" r="1.3" fill="#00bfbf"/>
<circle cx="152.2" cy="516.6" r="1.3" fill="#00bfbf"/>
<circle cx="153.5" cy="518.5" r="1.3" fill="#00bfbf"/>
<circle cx="144.4" cy="511.9" r="1.3" fill="#00bfbf"/>
<circle cx="145.3" cy="510.0" r="1.3" fill="#00bfbf"/>
<circle cx="146.3" cy="508.2" r="1.3" fill="#00bfbf"/>
<circle cx="147.2" cy="506.3" r="1.3" fill="#00bfbf"/>
<circle cx="148.2" cy="504.4" r="1.3" fill="#00bfbf"/>
<circle cx="149.1" cy="505.3" r="1.3" fill="#00bfbf"/>
<circle cx="149.8" cy="508.0" r="1.3" fill="#00bfbf"/>
<circle cx="150.8" cy="512.0" r="1.3" fill="#00bfbf"/>
<circle cx="151.8" cy="515.0" r="1.3" fill="#00bfbf"/>
<circle cx="152.8" cy="517.5" r="1.3" fill="#00bfbf"/>
<circle cx="164.8" cy="486.2" r="1.3" fill="#00bfbf"/>
<circle cx="170.4" cy="484.7" r="1.3" fill="#00bfbf"/>
<circle cx="169.1" cy="495.0" r="1.3" fill="#00bfbf"/>
<circle cx="169.6" cy="496.0" r="1.3" fill="#00bfbf"/>
<circle cx="165.9" cy="497.8" r="1.3" fill="#00bfbf"/>
<circle cx="167.2" cy="499.7" r="1.3" fill="#00bfbf"/>
<circle cx="168.1" cy="500.7" r="1.3" fill="#00bfbf"/>
<circle cx="165.3" cy="501.6" r="1.3" fill="#00bfbf"/>
<circle cx="171.0" cy="500.3" r="1.3" fill="#00bfbf"/>
<circle cx="167.8" cy="502.5" r="1.3" fill="#00bfbf"/>
<circle cx="169.1" cy="504.4" r="1.3" fill="#00bfbf"/>
<circle cx="170.0" cy="507.2" r="1.3" fill="#00bfbf"/>
<circle cx="171.5" cy="510.0" r="1.3" fill="#00bfbf"/>
<circle cx="163.5" cy="509.1" r="1.3" fill="#00bfbf"/>
<circle cx="162.9" cy="511.0" r="1.3" fill="#00bfbf"/>
<circle cx="166.3" cy="503.5" r="1.3" fill="#00bfbf"/>
<circle cx="168.5" cy="503.5" r="1.3" fill="#00bfbf"/>
<circle cx="166.8" cy="500.5" r="1.3" fill="#00bfbf"/>
<circle cx="167.5" cy="498.5" r="1.3" fill="#00bfbf"/>
<circle cx="191.6" cy="515.7" r="1.3" fill="#00bfbf"/>
<circle cx="192.2" cy="524.7" r="1.3" fill="#00bfbf"/>
<circle cx="243.9" cy="462.9" r="1.3" fill="#00bfbf"/>
<circle cx="244.4" cy="467.2" r="1.3" fill="#00bfbf"/>
<circle cx="243.9" cy="475.5" r="1.3" fill="#00bfbf"/>
<circle cx="243.5" cy="482.7" r="1.3" fill="#00bfbf"/>
<circle cx="243.5" cy="485.8" r="1.3" fill="#00bfbf"/>
<circle cx="243.2" cy="488.2" r="1.3" fill="#00bfbf"/>
<circle cx="242.8" cy="490.6" r="1.3" fill="#00bfbf"/>
<circle cx="242.4" cy="493.7" r="1.3" fill="#00bfbf"/>
<circle cx="241.6" cy="496.1" r="1.3" fill="#00bfbf"/>
<circle cx="241.9" cy="498.5" r="1.3" fill="#00bfbf"/>
<circle cx="242.4" cy="500.8" r="1.3" fill="#00bfbf"/>
<circle cx="246.6" cy="487.9" r="1.3" fill="#00bfbf"/>
<circle cx="247.6" cy="494.5" r="1.3" fill="#00bfbf"/>
<circle cx="247.6" cy="499.2" r="1.3" fill="#00bfbf"/>
<circle cx="248.2" cy="500.8" r="1.3" fill="#00bfbf"/>
<circle cx="248.7" cy="507.9" r="1.3" fill="#00bfbf"/>
<circle cx="248.7" cy="509.5" r="1.3" fill="#00bfbf"/>
<circle cx="249.2" cy="510.8" r="1.3" fill="#00bfbf"/>
<circle cx="243.5" cy="490.3" r="1.3" fill="#00bfbf"/>
<circle cx="242.2" cy="495.0" r="1.3" fill="#00bfbf"/>
<circle cx="241.3" cy="496.9" r="1.3" fill="#00bfbf"/>
<circle cx="242.8" cy="497.8" r="1.3" fill="#00bfbf"/>
<circle cx="241.7" cy="499.7" r="1.3" fill="#00bfbf"/>
<circle cx="242.4" cy="501.6" r="1.3" fill="#00bfbf"/>
<circle cx="248.4" cy="500.7" r="1.3" fill="#00bfbf"/>
<circle cx="248.0" cy="506.3" r="1.3" fill="#00bfbf"/>
<circle cx="248.8" cy="508.2" r="1.3" fill="#00bfbf"/>
<circle cx="248.4" cy="509.7" r="1.3" fill="#00bfbf"/>
<circle cx="249.2" cy="511.0" r="1.3" fill="#00bfbf"/>
<circle cx="243.0" cy="492.0" r="1.3" fill="#00bfbf"/>
<circle cx="266.5" cy="480.0" r="1.3" fill="#00bfbf"/>
<circle cx="267.2" cy="489.0" r="1.3" fill="#00bfbf"/>
<circle cx="266.5" cy="491.8" r="1.3" fill="#00bfbf"/>
<circle cx="267.6" cy="494.5" r="1.3" fill="#00bfbf"/>
<circle cx="268.1" cy="505.6" r="1.3" fill="#00bfbf"/>
<circle cx="281.4" cy="472.4" r="1.3" fill="#00bfbf"/>
<circle cx="283.4" cy="476.0" r="1.3" fill="#00bfbf"/>
<circle cx="283.9" cy="481.1" r="1.3" fill="#00bfbf"/>
<circle cx="278.7" cy="487.4" r="1.3" fill="#00bfbf"/>
<circle cx="281.1" cy="485.8" r="1.3" fill="#00bfbf"/>
<circle cx="283.4" cy="485.0" r="1.3" fill="#00bfbf"/>
<circle cx="283.9" cy="486.6" r="1.3" fill="#00bfbf"/>
<circle cx="280.8" cy="490.6" r="1.3" fill="#00bfbf"/>
<circle cx="283.9" cy="490.6" r="1.3" fill="#00bfbf"/>
<circle cx="279.5" cy="493.7" r="1.3" fill="#00bfbf"/>
<circle cx="281.1" cy="494.5" r="1.3" fill="#00bfbf"/>
<circle cx="279.2" cy="496.1" r="1.3" fill="#00bfbf"/>
<circle cx="280.3" cy="498.5" r="1.3" fill="#00bfbf"/>
<circle cx="281.4" cy="499.2" r="1.3" fill="#00bfbf"/>
<circle cx="279.5" cy="500.8" r="1.3" fill="#00bfbf"/>
<circle cx="279.2" cy="503.2" r="1.3" fill="#00bfbf"/>
<circle cx="279.8" cy="504.0" r="1.3" fill="#00bfbf"/>
<circle cx="278.7" cy="506.0" r="1.3" fill="#00bfbf"/>
<circle cx="285.8" cy="495.3" r="1.3" fill="#00bfbf"/>
<circle cx="286.1" cy="496.9" r="1.3" fill="#00bfbf"/>
<circle cx="285.8" cy="509.2" r="1.3" fill="#00bfbf"/>
<circle cx="286.4" cy="510.3" r="1.3" fill="#00bfbf"/>
<circle cx="286.6" cy="512.7" r="1.3" fill="#00bfbf"/>
<line x1="39.00" y1="6.40" x2="287.80" y2="6.40" stroke="#3a3a3a" stroke-width="0.85"/>
<line x1="39.00" y1="135.70" x2="287.80" y2="135.70" stroke="#3a3a3a" stroke-width="0.85"/>
<line x1="39.00" y1="265.70" x2="287.80" y2="265.70" stroke="#3a3a3a" stroke-width="0.85"/>
<line x1="39.00" y1="395.40" x2="287.80" y2="395.40" stroke="#3a3a3a" stroke-width="0.85"/>
<line x1="39.00" y1="525.50" x2="287.80" y2="525.50" stroke="#3a3a3a" stroke-width="0.85"/>
<line x1="39.40" y1="6.40" x2="39.40" y2="525.50" stroke="#3a3a3a" stroke-width="0.85"/>
<line x1="287.40" y1="6.40" x2="287.40" y2="525.50" stroke="#3a3a3a" stroke-width="0.85"/>
<line x1="36.20" y1="135.70" x2="39.40" y2="135.70" stroke="#3a3a3a" stroke-width="0.85"/>
<text x="33.00" y="138.60" font-size="8.4" text-anchor="end" textLength="11.2" lengthAdjust="spacingAndGlyphs" fill="#262626" >0.0</text>
<line x1="36.20" y1="109.84" x2="39.40" y2="109.84" stroke="#3a3a3a" stroke-width="0.85"/>
<text x="33.00" y="112.74" font-size="8.4" text-anchor="end" textLength="11.2" lengthAdjust="spacingAndGlyphs" fill="#262626" >0.2</text>
<line x1="36.20" y1="83.98" x2="39.40" y2="83.98" stroke="#3a3a3a" stroke-width="0.85"/>
<text x="33.00" y="86.88" font-size="8.4" text-anchor="end" textLength="11.2" lengthAdjust="spacingAndGlyphs" fill="#262626" >0.4</text>
<line x1="36.20" y1="58.12" x2="39.40" y2="58.12" stroke="#3a3a3a" stroke-width="0.85"/>
<text x="33.00" y="61.02" font-size="8.4" text-anchor="end" textLength="11.2" lengthAdjust="spacingAndGlyphs" fill="#262626" >0.6</text>
<line x1="36.20" y1="32.26" x2="39.40" y2="32.26" stroke="#3a3a3a" stroke-width="0.85"/>
<text x="33.00" y="35.16" font-size="8.4" text-anchor="end" textLength="11.2" lengthAdjust="spacingAndGlyphs" fill="#262626" >0.8</text>
<line x1="36.20" y1="6.40" x2="39.40" y2="6.40" stroke="#3a3a3a" stroke-width="0.85"/>
<text x="33.00" y="9.30" font-size="8.4" text-anchor="end" textLength="11.2" lengthAdjust="spacingAndGlyphs" fill="#262626" >1.0</text>
<text x="16.50" y="71.05" font-size="8.4" text-anchor="middle" textLength="54" lengthAdjust="spacingAndGlyphs" transform="rotate(-90 16.50 71.05)" fill="#262626" >NDVI, unitless</text>
<line x1="287.40" y1="265.70" x2="290.60" y2="265.70" stroke="#3a3a3a" stroke-width="0.85"/>
<text x="292.80" y="268.70" font-size="8.4" text-anchor="start" textLength="14.2" lengthAdjust="spacingAndGlyphs" fill="#262626" >280</text>
<line x1="287.40" y1="244.03" x2="290.60" y2="244.03" stroke="#3a3a3a" stroke-width="0.85"/>
<text x="292.80" y="247.03" font-size="8.4" text-anchor="start" textLength="14.2" lengthAdjust="spacingAndGlyphs" fill="#262626" >285</text>
<line x1="287.40" y1="222.37" x2="290.60" y2="222.37" stroke="#3a3a3a" stroke-width="0.85"/>
<text x="292.80" y="225.37" font-size="8.4" text-anchor="start" textLength="14.2" lengthAdjust="spacingAndGlyphs" fill="#262626" >290</text>
<line x1="287.40" y1="200.70" x2="290.60" y2="200.70" stroke="#3a3a3a" stroke-width="0.85"/>
<text x="292.80" y="203.70" font-size="8.4" text-anchor="start" textLength="14.2" lengthAdjust="spacingAndGlyphs" fill="#262626" >295</text>
<line x1="287.40" y1="179.03" x2="290.60" y2="179.03" stroke="#3a3a3a" stroke-width="0.85"/>
<text x="292.80" y="182.03" font-size="8.4" text-anchor="start" textLength="14.2" lengthAdjust="spacingAndGlyphs" fill="#262626" >300</text>
<line x1="287.40" y1="157.37" x2="290.60" y2="157.37" stroke="#3a3a3a" stroke-width="0.85"/>
<text x="292.80" y="160.37" font-size="8.4" text-anchor="start" textLength="14.2" lengthAdjust="spacingAndGlyphs" fill="#262626" >305</text>
<line x1="287.40" y1="135.70" x2="290.60" y2="135.70" stroke="#3a3a3a" stroke-width="0.85"/>
<text x="292.80" y="138.70" font-size="8.4" text-anchor="start" textLength="14.2" lengthAdjust="spacingAndGlyphs" fill="#262626" >310</text>
<text x="316.00" y="200.70" font-size="8.4" text-anchor="middle" textLength="22" lengthAdjust="spacingAndGlyphs" transform="rotate(-90 316.00 200.70)" fill="#262626" >LST, K</text>
<line x1="36.20" y1="395.40" x2="39.40" y2="395.40" stroke="#3a3a3a" stroke-width="0.85"/>
<text x="33.00" y="398.30" font-size="8.4" text-anchor="end" textLength="4.5" lengthAdjust="spacingAndGlyphs" fill="#262626" >0</text>
<line x1="36.20" y1="373.78" x2="39.40" y2="373.78" stroke="#3a3a3a" stroke-width="0.85"/>
<text x="33.00" y="376.68" font-size="8.4" text-anchor="end" textLength="13.6" lengthAdjust="spacingAndGlyphs" fill="#262626" >200</text>
<line x1="36.20" y1="352.17" x2="39.40" y2="352.17" stroke="#3a3a3a" stroke-width="0.85"/>
<text x="33.00" y="355.07" font-size="8.4" text-anchor="end" textLength="13.6" lengthAdjust="spacingAndGlyphs" fill="#262626" >400</text>
<line x1="36.20" y1="330.55" x2="39.40" y2="330.55" stroke="#3a3a3a" stroke-width="0.85"/>
<text x="33.00" y="333.45" font-size="8.4" text-anchor="end" textLength="13.6" lengthAdjust="spacingAndGlyphs" fill="#262626" >600</text>
<line x1="36.20" y1="308.93" x2="39.40" y2="308.93" stroke="#3a3a3a" stroke-width="0.85"/>
<text x="33.00" y="311.83" font-size="8.4" text-anchor="end" textLength="13.6" lengthAdjust="spacingAndGlyphs" fill="#262626" >800</text>
<line x1="36.20" y1="287.32" x2="39.40" y2="287.32" stroke="#3a3a3a" stroke-width="0.85"/>
<text x="33.00" y="290.22" font-size="8.4" text-anchor="end" textLength="18.0" lengthAdjust="spacingAndGlyphs" fill="#262626" >1000</text>
<line x1="36.20" y1="265.70" x2="39.40" y2="265.70" stroke="#3a3a3a" stroke-width="0.85"/>
<text x="33.00" y="268.60" font-size="8.4" text-anchor="end" textLength="18.0" lengthAdjust="spacingAndGlyphs" fill="#262626" >1200</text>
<text x="10.50" y="330.55" font-size="8.4" text-anchor="middle" textLength="105" lengthAdjust="spacingAndGlyphs" transform="rotate(-90 10.50 330.55)" fill="#262626" >Shortwave radiation, W/m2</text>
<line x1="287.40" y1="525.50" x2="290.60" y2="525.50" stroke="#3a3a3a" stroke-width="0.85"/>
<text x="292.80" y="528.50" font-size="8.4" text-anchor="start" textLength="12.0" lengthAdjust="spacingAndGlyphs" fill="#262626" >0.0</text>
<line x1="287.40" y1="509.24" x2="290.60" y2="509.24" stroke="#3a3a3a" stroke-width="0.85"/>
<text x="292.80" y="512.24" font-size="8.4" text-anchor="start" textLength="12.0" lengthAdjust="spacingAndGlyphs" fill="#262626" >0.1</text>
<line x1="287.40" y1="492.98" x2="290.60" y2="492.98" stroke="#3a3a3a" stroke-width="0.85"/>
<text x="292.80" y="495.98" font-size="8.4" text-anchor="start" textLength="12.0" lengthAdjust="spacingAndGlyphs" fill="#262626" >0.2</text>
<line x1="287.40" y1="476.71" x2="290.60" y2="476.71" stroke="#3a3a3a" stroke-width="0.85"/>
<text x="292.80" y="479.71" font-size="8.4" text-anchor="start" textLength="12.0" lengthAdjust="spacingAndGlyphs" fill="#262626" >0.3</text>
<line x1="287.40" y1="460.45" x2="290.60" y2="460.45" stroke="#3a3a3a" stroke-width="0.85"/>
<text x="292.80" y="463.45" font-size="8.4" text-anchor="start" textLength="12.0" lengthAdjust="spacingAndGlyphs" fill="#262626" >0.4</text>
<line x1="287.40" y1="444.19" x2="290.60" y2="444.19" stroke="#3a3a3a" stroke-width="0.85"/>
<text x="292.80" y="447.19" font-size="8.4" text-anchor="start" textLength="12.0" lengthAdjust="spacingAndGlyphs" fill="#262626" >0.5</text>
<line x1="287.40" y1="427.92" x2="290.60" y2="427.92" stroke="#3a3a3a" stroke-width="0.85"/>
<text x="292.80" y="430.92" font-size="8.4" text-anchor="start" textLength="12.0" lengthAdjust="spacingAndGlyphs" fill="#262626" >0.6</text>
<line x1="287.40" y1="411.66" x2="290.60" y2="411.66" stroke="#3a3a3a" stroke-width="0.85"/>
<text x="292.80" y="414.66" font-size="8.4" text-anchor="start" textLength="12.0" lengthAdjust="spacingAndGlyphs" fill="#262626" >0.7</text>
<line x1="287.40" y1="395.40" x2="290.60" y2="395.40" stroke="#3a3a3a" stroke-width="0.85"/>
<text x="292.80" y="398.40" font-size="8.4" text-anchor="start" textLength="12.0" lengthAdjust="spacingAndGlyphs" fill="#262626" >0.8</text>
<text x="313.50" y="460.45" font-size="8.4" text-anchor="middle" textLength="81" lengthAdjust="spacingAndGlyphs" transform="rotate(-90 313.50 460.45)" fill="#262626" >550nm AOD, unitless</text>
<line x1="39.40" y1="525.50" x2="39.40" y2="528.10" stroke="#3a3a3a" stroke-width="0.85"/>
<text x="39.10" y="535.10" font-size="8.3" text-anchor="end" textLength="45.5" lengthAdjust="spacingAndGlyphs" transform="rotate(-45 39.10 535.10)" fill="#262626" >2020-07-23</text>
<line x1="77.54" y1="525.50" x2="77.54" y2="528.10" stroke="#3a3a3a" stroke-width="0.85"/>
<text x="77.24" y="535.10" font-size="8.3" text-anchor="end" textLength="45.5" lengthAdjust="spacingAndGlyphs" transform="rotate(-45 77.24 535.10)" fill="#262626" >2020-07-25</text>
<line x1="115.68" y1="525.50" x2="115.68" y2="528.10" stroke="#3a3a3a" stroke-width="0.85"/>
<text x="115.38" y="535.10" font-size="8.3" text-anchor="end" textLength="45.5" lengthAdjust="spacingAndGlyphs" transform="rotate(-45 115.38 535.10)" fill="#262626" >2020-07-27</text>
<line x1="153.82" y1="525.50" x2="153.82" y2="528.10" stroke="#3a3a3a" stroke-width="0.85"/>
<text x="153.52" y="535.10" font-size="8.3" text-anchor="end" textLength="45.5" lengthAdjust="spacingAndGlyphs" transform="rotate(-45 153.52 535.10)" fill="#262626" >2020-07-29</text>
<line x1="191.96" y1="525.50" x2="191.96" y2="528.10" stroke="#3a3a3a" stroke-width="0.85"/>
<text x="191.66" y="535.10" font-size="8.3" text-anchor="end" textLength="45.5" lengthAdjust="spacingAndGlyphs" transform="rotate(-45 191.66 535.10)" fill="#262626" >2020-07-31</text>
<line x1="211.03" y1="525.50" x2="211.03" y2="528.10" stroke="#3a3a3a" stroke-width="0.85"/>
<text x="210.73" y="535.10" font-size="8.3" text-anchor="end" textLength="45.5" lengthAdjust="spacingAndGlyphs" transform="rotate(-45 210.73 535.10)" fill="#262626" >2020-08-01</text>
<line x1="249.17" y1="525.50" x2="249.17" y2="528.10" stroke="#3a3a3a" stroke-width="0.85"/>
<text x="248.87" y="535.10" font-size="8.3" text-anchor="end" textLength="45.5" lengthAdjust="spacingAndGlyphs" transform="rotate(-45 248.87 535.10)" fill="#262626" >2020-08-03</text>
<line x1="287.31" y1="525.50" x2="287.31" y2="528.10" stroke="#3a3a3a" stroke-width="0.85"/>
<text x="287.01" y="535.10" font-size="8.3" text-anchor="end" textLength="45.5" lengthAdjust="spacingAndGlyphs" transform="rotate(-45 287.01 535.10)" fill="#262626" >2020-08-05</text>
<text x="200.30" y="15.60" font-size="9.5" text-anchor="start" textLength="37.5" lengthAdjust="spacingAndGlyphs" fill="#262626" >(a) NDVI</text>
<text x="46.50" y="149.10" font-size="9.5" text-anchor="start" textLength="32.3" lengthAdjust="spacingAndGlyphs" fill="#262626" >(b) LST</text>
<text x="46.60" y="278.70" font-size="9.5" text-anchor="start" textLength="154.8" lengthAdjust="spacingAndGlyphs" fill="#262626" >(c) downward shortwave radiation</text>
<text x="46.80" y="409.00" font-size="9.5" text-anchor="start" textLength="128.2" lengthAdjust="spacingAndGlyphs" fill="#262626" >(d) Optical Depth at 550 nm</text>
<rect x="42.5" y="106.5" width="76.4" height="25.1" rx="1.5" fill="#fff" fill-opacity="0.8" stroke="#d0d0d0" stroke-width="0.6"/>
<circle cx="53.4" cy="113" r="1.25" fill="#0000ff"/>
<circle cx="53.4" cy="124.7" r="1.25" fill="#bf00bf"/>
<text x="67.50" y="114.80" font-size="7.9" text-anchor="start" textLength="37.5" lengthAdjust="spacingAndGlyphs" fill="#262626" >TOA NDVI</text>
<text x="67.00" y="126.70" font-size="7.9" text-anchor="start" textLength="49.5" lengthAdjust="spacingAndGlyphs" fill="#262626" >surface NDVI</text>
</svg>
</body></html>
